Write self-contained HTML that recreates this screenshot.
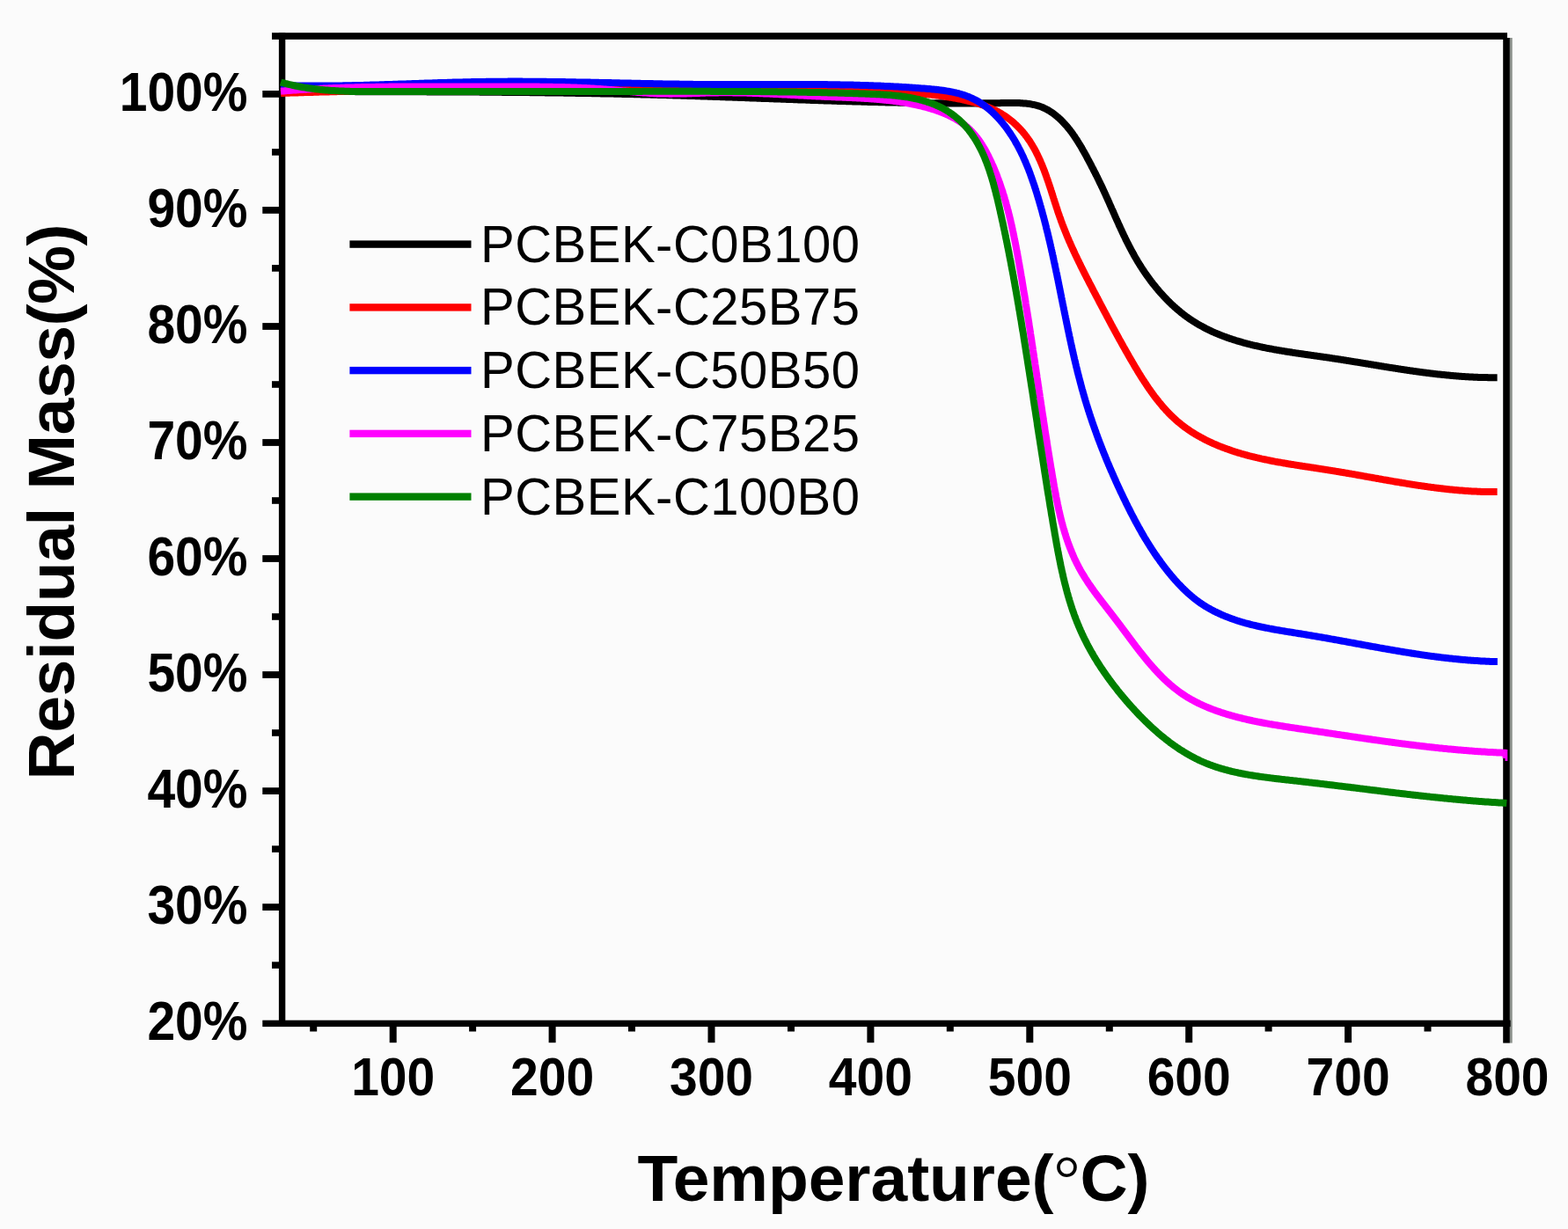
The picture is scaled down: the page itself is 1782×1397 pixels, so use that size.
<!DOCTYPE html><html><head><meta charset="utf-8"><style>html,body{margin:0;padding:0;background:#fbfbfb;}svg{display:block;}</style></head><body>
<svg width="1782" height="1397" viewBox="0 0 1782 1397">
<rect width="1782" height="1397" fill="#fbfbfb"/>
<g fill="#000">
<rect x="316.9" y="37.3" width="7.4" height="1129.7"/>
<rect x="309" y="37.2" width="1404" height="7.7"/>
<rect x="1708.2" y="43" width="7.7" height="1142.6"/>
<rect x="1715.9" y="43" width="2.8" height="1142.6" fill="#8b908b"/>
<rect x="298.3" y="1159.7" width="1418.3" height="7.4"/>
<rect x="442.7" y="1166" width="8" height="19.2"/>
<rect x="623.6" y="1166" width="8" height="19.2"/>
<rect x="804.5" y="1166" width="8" height="19.2"/>
<rect x="985.4" y="1166" width="8" height="19.2"/>
<rect x="1166.3" y="1166" width="8" height="19.2"/>
<rect x="1347.2" y="1166" width="8" height="19.2"/>
<rect x="1528.1" y="1166" width="8" height="19.2"/>
<rect x="352.2" y="1166" width="8" height="6.5"/>
<rect x="533.1" y="1166" width="8" height="6.5"/>
<rect x="714.0" y="1166" width="8" height="6.5"/>
<rect x="895.0" y="1166" width="8" height="6.5"/>
<rect x="1075.8" y="1166" width="8" height="6.5"/>
<rect x="1256.8" y="1166" width="8" height="6.5"/>
<rect x="1437.6" y="1166" width="8" height="6.5"/>
<rect x="1618.5" y="1166" width="8" height="6.5"/>
<rect x="298.3" y="1027.2" width="20" height="7.8"/>
<rect x="298.3" y="895.2" width="20" height="7.8"/>
<rect x="298.3" y="763.1" width="20" height="7.8"/>
<rect x="298.3" y="631.1" width="20" height="7.8"/>
<rect x="298.3" y="499.1" width="20" height="7.8"/>
<rect x="298.3" y="367.1" width="20" height="7.8"/>
<rect x="298.3" y="235.0" width="20" height="7.8"/>
<rect x="298.3" y="103.0" width="20" height="7.8"/>
<rect x="309" y="1093.3" width="10" height="7.6"/>
<rect x="309" y="961.3" width="10" height="7.6"/>
<rect x="309" y="829.2" width="10" height="7.6"/>
<rect x="309" y="697.2" width="10" height="7.6"/>
<rect x="309" y="565.2" width="10" height="7.6"/>
<rect x="309" y="433.2" width="10" height="7.6"/>
<rect x="309" y="301.1" width="10" height="7.6"/>
<rect x="309" y="169.1" width="10" height="7.6"/>
</g>
<g fill="none" stroke-width="8.0" stroke-linejoin="round" stroke-linecap="butt">
<path stroke="#000000" d="M319.0,104.0 L320.0,104.0 L321.0,104.0 L322.0,104.0 L323.1,104.0 L324.1,104.0 L325.1,104.0 L326.1,104.0 L327.1,104.0 L328.1,104.0 L329.2,104.0 L330.2,104.0 L331.2,104.0 L332.2,104.0 L333.2,104.0 L334.2,104.0 L335.2,104.0 L336.3,104.0 L337.3,104.0 L338.3,104.0 L339.3,104.0 L340.3,104.0 L341.3,104.0 L342.4,104.1 L343.4,104.1 L344.4,104.1 L345.4,104.1 L346.4,104.1 L347.4,104.1 L348.4,104.1 L349.5,104.1 L350.5,104.1 L351.5,104.1 L352.5,104.1 L353.5,104.1 L354.5,104.1 L355.6,104.1 L356.6,104.1 L357.6,104.1 L358.6,104.1 L359.6,104.1 L360.6,104.1 L361.7,104.1 L362.7,104.1 L363.7,104.1 L364.7,104.1 L365.7,104.1 L366.7,104.1 L367.7,104.1 L368.8,104.1 L369.8,104.1 L370.8,104.1 L371.8,104.1 L372.8,104.1 L373.8,104.1 L374.9,104.1 L375.9,104.1 L376.9,104.1 L377.9,104.1 L378.9,104.1 L379.9,104.1 L381.0,104.1 L382.0,104.1 L383.0,104.1 L384.0,104.1 L385.0,104.1 L386.0,104.1 L387.1,104.1 L388.1,104.1 L389.1,104.1 L390.1,104.1 L391.1,104.1 L392.1,104.1 L393.2,104.1 L394.2,104.1 L395.2,104.1 L396.2,104.1 L397.2,104.1 L398.2,104.1 L399.3,104.1 L400.3,104.1 L401.3,104.1 L402.3,104.1 L403.3,104.1 L404.3,104.2 L405.3,104.2 L406.4,104.2 L407.4,104.2 L408.4,104.2 L409.4,104.2 L410.4,104.2 L411.4,104.2 L412.5,104.2 L413.5,104.2 L414.5,104.2 L415.5,104.2 L416.5,104.2 L417.5,104.2 L418.6,104.2 L419.6,104.2 L420.6,104.2 L421.6,104.2 L422.6,104.2 L423.6,104.2 L424.7,104.2 L425.7,104.2 L426.7,104.2 L427.7,104.2 L428.7,104.2 L429.8,104.2 L430.8,104.2 L431.8,104.2 L432.8,104.2 L433.8,104.2 L434.8,104.2 L435.9,104.2 L436.9,104.2 L437.9,104.2 L438.9,104.2 L439.9,104.2 L440.9,104.2 L442.0,104.2 L443.0,104.2 L444.0,104.2 L445.0,104.2 L446.0,104.2 L447.0,104.2 L448.1,104.2 L449.1,104.2 L450.1,104.2 L451.1,104.2 L452.1,104.2 L453.1,104.3 L454.2,104.3 L455.2,104.3 L456.2,104.3 L457.2,104.3 L458.2,104.3 L459.2,104.3 L460.3,104.3 L461.3,104.3 L462.3,104.3 L463.3,104.3 L464.3,104.3 L465.3,104.3 L466.4,104.3 L467.4,104.3 L468.4,104.3 L469.4,104.3 L470.4,104.3 L471.4,104.3 L472.5,104.3 L473.5,104.3 L474.5,104.3 L475.5,104.3 L476.5,104.3 L477.6,104.3 L478.6,104.3 L479.6,104.3 L480.6,104.3 L481.6,104.3 L482.6,104.3 L483.7,104.3 L484.7,104.3 L485.7,104.4 L486.7,104.4 L487.7,104.4 L488.7,104.4 L489.8,104.4 L490.8,104.4 L491.8,104.4 L492.8,104.4 L493.8,104.4 L494.8,104.4 L495.9,104.4 L496.9,104.4 L497.9,104.4 L498.9,104.4 L499.9,104.4 L501.0,104.4 L502.0,104.4 L503.0,104.4 L504.0,104.4 L505.0,104.4 L506.0,104.4 L507.1,104.4 L508.1,104.4 L509.1,104.4 L510.1,104.5 L511.1,104.5 L512.1,104.5 L513.2,104.5 L514.2,104.5 L515.2,104.5 L516.2,104.5 L517.2,104.5 L518.2,104.5 L519.3,104.5 L520.3,104.5 L521.3,104.5 L522.3,104.5 L523.3,104.5 L524.4,104.5 L525.4,104.5 L526.4,104.5 L527.4,104.5 L528.4,104.5 L529.4,104.6 L530.5,104.6 L531.5,104.6 L532.5,104.6 L533.5,104.6 L534.5,104.6 L535.5,104.6 L536.6,104.6 L537.6,104.6 L538.6,104.6 L539.6,104.6 L540.6,104.6 L541.6,104.6 L542.7,104.6 L543.7,104.6 L544.7,104.6 L545.7,104.7 L546.7,104.7 L547.8,104.7 L548.8,104.7 L549.8,104.7 L550.8,104.7 L551.8,104.7 L552.8,104.7 L553.9,104.7 L554.9,104.7 L555.9,104.7 L556.9,104.7 L557.9,104.7 L558.9,104.8 L560.0,104.8 L561.0,104.8 L562.0,104.8 L563.0,104.8 L564.0,104.8 L565.0,104.8 L566.1,104.8 L567.1,104.8 L568.1,104.8 L569.1,104.8 L570.1,104.8 L571.2,104.9 L572.2,104.9 L573.2,104.9 L574.2,104.9 L575.2,104.9 L576.2,104.9 L577.3,104.9 L578.3,104.9 L579.3,104.9 L580.3,104.9 L581.3,104.9 L582.3,105.0 L583.4,105.0 L584.4,105.0 L585.4,105.0 L586.4,105.0 L587.4,105.0 L588.4,105.0 L589.5,105.0 L590.5,105.0 L591.5,105.0 L592.5,105.1 L593.5,105.1 L594.5,105.1 L595.6,105.1 L596.6,105.1 L597.6,105.1 L598.6,105.1 L599.6,105.1 L600.7,105.1 L601.7,105.1 L602.7,105.2 L603.7,105.2 L604.7,105.2 L605.7,105.2 L606.8,105.2 L607.8,105.2 L608.8,105.2 L609.8,105.2 L610.8,105.3 L611.8,105.3 L612.9,105.3 L613.9,105.3 L614.9,105.3 L615.9,105.3 L616.9,105.3 L617.9,105.3 L619.0,105.3 L620.0,105.4 L621.0,105.4 L622.0,105.4 L623.0,105.4 L624.0,105.4 L625.1,105.4 L626.1,105.4 L627.1,105.5 L628.1,105.5 L629.1,105.5 L630.1,105.5 L631.2,105.5 L632.2,105.5 L633.2,105.5 L634.2,105.6 L635.2,105.6 L636.3,105.6 L637.3,105.6 L638.3,105.6 L639.3,105.6 L640.3,105.6 L641.3,105.7 L642.4,105.7 L643.4,105.7 L644.4,105.7 L645.4,105.7 L646.4,105.7 L647.4,105.7 L648.5,105.8 L649.5,105.8 L650.5,105.8 L651.5,105.8 L652.5,105.8 L653.5,105.8 L654.6,105.9 L655.6,105.9 L656.6,105.9 L657.6,105.9 L658.6,105.9 L659.6,105.9 L660.7,106.0 L661.7,106.0 L662.7,106.0 L663.7,106.0 L664.7,106.0 L665.7,106.0 L666.8,106.1 L667.8,106.1 L668.8,106.1 L669.8,106.1 L670.8,106.1 L671.8,106.1 L672.9,106.2 L673.9,106.2 L674.9,106.2 L675.9,106.2 L676.9,106.2 L677.9,106.3 L679.0,106.3 L680.0,106.3 L681.0,106.3 L682.0,106.3 L683.0,106.4 L684.0,106.4 L685.1,106.4 L686.1,106.4 L687.1,106.4 L688.1,106.5 L689.1,106.5 L690.1,106.5 L691.1,106.5 L692.2,106.5 L693.2,106.6 L694.2,106.6 L695.2,106.6 L696.2,106.6 L697.2,106.6 L698.3,106.7 L699.3,106.7 L700.3,106.7 L701.3,106.7 L702.3,106.8 L703.3,106.8 L704.4,106.8 L705.4,106.8 L706.4,106.8 L707.4,106.9 L708.4,106.9 L709.4,106.9 L710.5,106.9 L711.5,107.0 L712.5,107.0 L713.5,107.0 L714.5,107.0 L715.5,107.0 L716.5,107.1 L717.6,107.1 L718.6,107.1 L719.6,107.1 L720.6,107.2 L721.6,107.2 L722.6,107.2 L723.7,107.2 L724.7,107.3 L725.7,107.3 L726.7,107.3 L727.7,107.3 L728.7,107.4 L729.8,107.4 L730.8,107.4 L731.8,107.4 L732.8,107.5 L733.8,107.5 L734.8,107.5 L735.8,107.5 L736.9,107.6 L737.9,107.6 L738.9,107.6 L739.9,107.7 L740.9,107.7 L741.9,107.7 L743.0,107.7 L744.0,107.8 L745.0,107.8 L746.0,107.8 L747.0,107.8 L748.0,107.9 L749.0,107.9 L750.1,107.9 L751.1,108.0 L752.1,108.0 L753.1,108.0 L754.1,108.0 L755.1,108.1 L756.2,108.1 L757.2,108.1 L758.2,108.2 L759.2,108.2 L760.2,108.2 L761.2,108.3 L762.2,108.3 L763.3,108.3 L764.3,108.3 L765.3,108.4 L766.3,108.4 L767.3,108.4 L768.3,108.5 L769.3,108.5 L770.4,108.5 L771.4,108.6 L772.4,108.6 L773.4,108.6 L774.4,108.7 L775.4,108.7 L776.4,108.7 L777.5,108.8 L778.5,108.8 L779.5,108.8 L780.5,108.8 L781.5,108.9 L782.5,108.9 L783.5,108.9 L784.6,109.0 L785.6,109.0 L786.6,109.0 L787.6,109.1 L788.6,109.1 L789.6,109.1 L790.7,109.2 L791.7,109.2 L792.7,109.2 L793.7,109.3 L794.7,109.3 L795.7,109.3 L796.7,109.4 L797.8,109.4 L798.8,109.5 L799.8,109.5 L800.8,109.5 L801.8,109.6 L802.8,109.6 L803.8,109.6 L804.9,109.7 L805.9,109.7 L806.9,109.7 L807.9,109.8 L808.9,109.8 L809.9,109.8 L810.9,109.9 L812.0,109.9 L813.0,109.9 L814.0,110.0 L815.0,110.0 L816.0,110.0 L817.0,110.1 L818.0,110.1 L819.1,110.2 L820.1,110.2 L821.1,110.2 L822.1,110.3 L823.1,110.3 L824.1,110.3 L825.1,110.4 L826.1,110.4 L827.2,110.4 L828.2,110.5 L829.2,110.5 L830.2,110.6 L831.2,110.6 L832.2,110.6 L833.2,110.7 L834.3,110.7 L835.3,110.7 L836.3,110.8 L837.3,110.8 L838.3,110.8 L839.3,110.9 L840.3,110.9 L841.4,111.0 L842.4,111.0 L843.4,111.0 L844.4,111.1 L845.4,111.1 L846.4,111.1 L847.4,111.2 L848.5,111.2 L849.5,111.3 L850.5,111.3 L851.5,111.3 L852.5,111.4 L853.5,111.4 L854.5,111.4 L855.6,111.5 L856.6,111.5 L857.6,111.6 L858.6,111.6 L859.6,111.6 L860.6,111.7 L861.6,111.7 L862.7,111.7 L863.7,111.8 L864.7,111.8 L865.7,111.9 L866.7,111.9 L867.7,111.9 L868.7,112.0 L869.8,112.0 L870.8,112.0 L871.8,112.1 L872.8,112.1 L873.8,112.1 L874.8,112.2 L875.8,112.2 L876.9,112.3 L877.9,112.3 L878.9,112.3 L879.9,112.4 L880.9,112.4 L881.9,112.4 L882.9,112.5 L884.0,112.5 L885.0,112.6 L886.0,112.6 L887.0,112.6 L888.0,112.7 L889.0,112.7 L890.0,112.7 L891.1,112.8 L892.1,112.8 L893.1,112.8 L894.1,112.9 L895.1,112.9 L896.1,113.0 L897.1,113.0 L898.2,113.0 L899.2,113.1 L900.2,113.1 L901.2,113.1 L902.2,113.2 L903.2,113.2 L904.2,113.2 L905.3,113.3 L906.3,113.3 L907.3,113.4 L908.3,113.4 L909.3,113.4 L910.3,113.5 L911.3,113.5 L912.4,113.5 L913.4,113.6 L914.4,113.6 L915.4,113.6 L916.4,113.7 L917.4,113.7 L918.4,113.7 L919.5,113.8 L920.5,113.8 L921.5,113.9 L922.5,113.9 L923.5,113.9 L924.5,114.0 L925.6,114.0 L926.6,114.0 L927.6,114.1 L928.6,114.1 L929.6,114.1 L930.6,114.2 L931.6,114.2 L932.7,114.2 L933.7,114.3 L934.7,114.3 L935.7,114.3 L936.7,114.4 L937.7,114.4 L938.8,114.4 L939.8,114.5 L940.8,114.5 L941.8,114.5 L942.8,114.6 L943.8,114.6 L944.8,114.6 L945.9,114.7 L946.9,114.7 L947.9,114.7 L948.9,114.8 L949.9,114.8 L950.9,114.8 L952.0,114.9 L953.0,114.9 L954.0,114.9 L955.0,114.9 L956.0,115.0 L957.0,115.0 L958.0,115.0 L959.1,115.1 L960.1,115.1 L961.1,115.1 L962.1,115.2 L963.1,115.2 L964.1,115.2 L965.2,115.3 L966.2,115.3 L967.2,115.3 L968.2,115.3 L969.2,115.4 L970.2,115.4 L971.3,115.4 L972.3,115.5 L973.3,115.5 L974.3,115.5 L975.3,115.5 L976.3,115.6 L977.3,115.6 L978.4,115.6 L979.4,115.7 L980.4,115.7 L981.4,115.7 L982.4,115.7 L983.4,115.8 L984.5,115.8 L985.5,115.8 L986.5,115.9 L987.5,115.9 L988.5,115.9 L989.5,115.9 L990.6,116.0 L991.6,116.0 L992.6,116.0 L993.6,116.0 L994.6,116.1 L995.6,116.1 L996.7,116.1 L997.7,116.1 L998.7,116.2 L999.7,116.2 L1000.7,116.2 L1001.8,116.2 L1002.8,116.3 L1003.8,116.3 L1004.8,116.3 L1005.8,116.3 L1006.8,116.4 L1007.9,116.4 L1008.9,116.4 L1009.9,116.4 L1010.9,116.4 L1011.9,116.5 L1012.9,116.5 L1014.0,116.5 L1015.0,116.5 L1016.0,116.5 L1017.0,116.6 L1018.0,116.6 L1019.1,116.6 L1020.1,116.6 L1021.1,116.7 L1022.1,116.7 L1023.1,116.7 L1024.1,116.7 L1025.2,116.7 L1026.2,116.7 L1027.2,116.8 L1028.2,116.8 L1029.2,116.8 L1030.3,116.8 L1031.3,116.8 L1032.3,116.9 L1033.3,116.9 L1034.3,116.9 L1035.3,116.9 L1036.4,116.9 L1037.4,116.9 L1038.4,117.0 L1039.4,117.0 L1040.4,117.0 L1041.5,117.0 L1042.5,117.0 L1043.5,117.0 L1044.5,117.0 L1045.5,117.1 L1046.6,117.1 L1047.6,117.1 L1048.6,117.1 L1049.6,117.1 L1050.6,117.1 L1051.7,117.1 L1052.7,117.2 L1053.7,117.2 L1054.7,117.2 L1055.7,117.2 L1056.7,117.2 L1057.8,117.2 L1058.8,117.2 L1059.8,117.2 L1060.8,117.2 L1061.8,117.3 L1062.9,117.3 L1063.9,117.3 L1064.9,117.3 L1065.9,117.3 L1067.0,117.3 L1068.0,117.3 L1069.0,117.3 L1070.0,117.3 L1071.0,117.3 L1072.1,117.3 L1073.1,117.4 L1074.1,117.4 L1075.1,117.4 L1076.1,117.4 L1077.2,117.4 L1078.2,117.4 L1079.2,117.4 L1080.2,117.4 L1081.2,117.4 L1082.3,117.4 L1083.3,117.4 L1084.3,117.4 L1085.3,117.4 L1086.3,117.4 L1087.4,117.4 L1088.4,117.4 L1089.4,117.4 L1090.4,117.4 L1091.5,117.4 L1092.5,117.4 L1093.5,117.4 L1094.5,117.4 L1095.5,117.4 L1096.6,117.4 L1097.6,117.4 L1098.6,117.4 L1099.6,117.4 L1100.7,117.4 L1101.7,117.4 L1102.7,117.4 L1103.7,117.4 L1104.7,117.4 L1105.8,117.4 L1106.8,117.4 L1107.8,117.4 L1108.8,117.4 L1109.9,117.4 L1110.9,117.4 L1111.9,117.4 L1112.9,117.4 L1114.0,117.4 L1115.0,117.4 L1116.0,117.4 L1117.0,117.4 L1118.0,117.3 L1119.1,117.3 L1120.1,117.3 L1121.1,117.3 L1122.1,117.3 L1123.2,117.3 L1124.2,117.3 L1125.2,117.3 L1126.2,117.3 L1127.3,117.3 L1128.3,117.3 L1129.3,117.2 L1130.3,117.2 L1131.4,117.2 L1132.4,117.2 L1133.4,117.2 L1134.4,117.2 L1135.5,117.2 L1136.5,117.2 L1137.5,117.1 L1138.5,117.1 L1139.6,117.1 L1140.6,117.1 L1141.6,117.1 L1142.6,117.1 L1143.7,117.0 L1144.7,117.0 L1145.7,117.0 L1146.7,117.0 L1147.8,117.0 L1148.8,117.0 L1149.8,117.0 L1150.8,117.0 L1151.8,117.0 L1152.8,117.0 L1153.9,117.0 L1154.9,117.0 L1155.9,117.0 L1156.9,117.1 L1157.9,117.1 L1158.9,117.1 L1159.9,117.2 L1160.9,117.2 L1161.9,117.3 L1162.9,117.4 L1163.9,117.4 L1164.9,117.5 L1165.9,117.6 L1166.9,117.7 L1167.8,117.8 L1168.8,118.0 L1169.8,118.1 L1170.8,118.2 L1171.7,118.4 L1172.7,118.6 L1173.6,118.8 L1174.6,119.0 L1175.6,119.2 L1176.5,119.4 L1177.4,119.6 L1178.4,119.9 L1179.3,120.1 L1180.2,120.4 L1181.1,120.7 L1182.1,121.0 L1183.0,121.3 L1183.9,121.7 L1184.8,122.1 L1185.7,122.4 L1186.5,122.8 L1187.4,123.2 L1188.3,123.7 L1189.2,124.1 L1190.0,124.6 L1190.9,125.0 L1191.7,125.5 L1192.6,126.0 L1193.4,126.6 L1194.2,127.1 L1195.1,127.7 L1195.9,128.2 L1196.7,128.8 L1197.5,129.4 L1198.3,130.0 L1199.1,130.6 L1199.9,131.2 L1200.7,131.9 L1201.4,132.5 L1202.2,133.2 L1203.0,133.8 L1203.7,134.5 L1204.5,135.2 L1205.2,135.9 L1205.9,136.6 L1206.7,137.3 L1207.4,138.1 L1208.1,138.8 L1208.8,139.6 L1209.5,140.3 L1210.2,141.1 L1210.9,141.8 L1211.6,142.6 L1212.3,143.4 L1212.9,144.2 L1213.6,145.0 L1214.3,145.8 L1214.9,146.6 L1215.6,147.4 L1216.2,148.2 L1216.8,149.1 L1217.5,149.9 L1218.1,150.7 L1218.7,151.6 L1219.3,152.4 L1219.9,153.3 L1220.5,154.1 L1221.1,155.0 L1221.7,155.8 L1222.2,156.7 L1222.8,157.6 L1223.4,158.5 L1224.0,159.3 L1224.5,160.2 L1225.1,161.1 L1225.6,162.0 L1226.2,162.9 L1226.7,163.8 L1227.3,164.7 L1227.8,165.5 L1228.3,166.4 L1228.9,167.3 L1229.4,168.2 L1229.9,169.2 L1230.4,170.1 L1230.9,171.0 L1231.4,171.9 L1232.0,172.8 L1232.5,173.7 L1233.0,174.6 L1233.5,175.5 L1234.0,176.4 L1234.5,177.3 L1235.0,178.2 L1235.5,179.2 L1235.9,180.1 L1236.4,181.0 L1236.9,181.9 L1237.4,182.8 L1237.9,183.7 L1238.4,184.6 L1238.8,185.5 L1239.3,186.4 L1239.8,187.3 L1240.3,188.2 L1240.7,189.2 L1241.2,190.1 L1241.7,191.0 L1242.2,191.9 L1242.6,192.8 L1243.1,193.7 L1243.5,194.6 L1244.0,195.5 L1244.5,196.4 L1244.9,197.3 L1245.4,198.2 L1245.8,199.1 L1246.3,200.0 L1246.7,200.9 L1247.2,201.8 L1247.6,202.7 L1248.1,203.6 L1248.5,204.6 L1249.0,205.5 L1249.4,206.4 L1249.8,207.3 L1250.3,208.2 L1250.7,209.1 L1251.2,210.0 L1251.6,210.9 L1252.0,211.8 L1252.5,212.7 L1252.9,213.6 L1253.3,214.6 L1253.7,215.5 L1254.2,216.4 L1254.6,217.3 L1255.0,218.2 L1255.4,219.1 L1255.8,220.0 L1256.3,221.0 L1256.7,221.9 L1257.1,222.8 L1257.5,223.7 L1257.9,224.6 L1258.3,225.5 L1258.7,226.4 L1259.2,227.4 L1259.6,228.3 L1260.0,229.2 L1260.4,230.1 L1260.8,231.0 L1261.2,232.0 L1261.6,232.9 L1262.0,233.8 L1262.4,234.7 L1262.8,235.6 L1263.2,236.6 L1263.6,237.5 L1264.0,238.4 L1264.5,239.3 L1264.9,240.2 L1265.3,241.2 L1265.7,242.1 L1266.1,243.0 L1266.5,243.9 L1266.9,244.8 L1267.3,245.8 L1267.7,246.7 L1268.1,247.6 L1268.5,248.5 L1268.9,249.4 L1269.3,250.3 L1269.8,251.3 L1270.2,252.2 L1270.6,253.1 L1271.0,254.0 L1271.4,254.9 L1271.8,255.9 L1272.2,256.8 L1272.7,257.7 L1273.1,258.6 L1273.5,259.5 L1273.9,260.4 L1274.3,261.3 L1274.8,262.3 L1275.2,263.2 L1275.6,264.1 L1276.0,265.0 L1276.5,265.9 L1276.9,266.8 L1277.3,267.7 L1277.8,268.6 L1278.2,269.5 L1278.7,270.5 L1279.1,271.4 L1279.5,272.3 L1280.0,273.2 L1280.4,274.1 L1280.9,275.0 L1281.3,275.9 L1281.8,276.8 L1282.3,277.7 L1282.7,278.6 L1283.2,279.5 L1283.6,280.4 L1284.1,281.3 L1284.6,282.2 L1285.1,283.1 L1285.5,284.0 L1286.0,284.9 L1286.5,285.8 L1287.0,286.7 L1287.5,287.6 L1288.0,288.4 L1288.4,289.3 L1288.9,290.2 L1289.4,291.1 L1289.9,292.0 L1290.5,292.9 L1291.0,293.8 L1291.5,294.6 L1292.0,295.5 L1292.5,296.4 L1293.0,297.3 L1293.6,298.2 L1294.1,299.0 L1294.6,299.9 L1295.2,300.8 L1295.7,301.7 L1296.3,302.5 L1296.8,303.4 L1297.4,304.3 L1298.0,305.1 L1298.5,306.0 L1299.1,306.9 L1299.7,307.7 L1300.2,308.6 L1300.8,309.4 L1301.4,310.3 L1302.0,311.1 L1302.6,312.0 L1303.2,312.8 L1303.8,313.7 L1304.4,314.5 L1305.0,315.4 L1305.6,316.2 L1306.2,317.0 L1306.8,317.9 L1307.4,318.7 L1308.0,319.5 L1308.7,320.3 L1309.3,321.2 L1309.9,322.0 L1310.6,322.8 L1311.2,323.6 L1311.9,324.4 L1312.5,325.2 L1313.2,326.0 L1313.8,326.8 L1314.5,327.6 L1315.1,328.4 L1315.8,329.2 L1316.5,330.0 L1317.2,330.8 L1317.8,331.6 L1318.5,332.4 L1319.2,333.1 L1319.9,333.9 L1320.6,334.7 L1321.3,335.4 L1322.0,336.2 L1322.7,337.0 L1323.4,337.7 L1324.1,338.5 L1324.8,339.2 L1325.5,339.9 L1326.2,340.7 L1326.9,341.4 L1327.7,342.1 L1328.4,342.9 L1329.1,343.6 L1329.9,344.3 L1330.6,345.0 L1331.3,345.7 L1332.1,346.4 L1332.8,347.1 L1333.6,347.8 L1334.3,348.5 L1335.1,349.2 L1335.9,349.8 L1336.6,350.5 L1337.4,351.2 L1338.2,351.8 L1338.9,352.5 L1339.7,353.1 L1340.5,353.8 L1341.3,354.4 L1342.0,355.1 L1342.8,355.7 L1343.6,356.3 L1344.4,356.9 L1345.2,357.6 L1346.0,358.2 L1346.8,358.8 L1347.6,359.4 L1348.4,360.0 L1349.3,360.5 L1350.1,361.1 L1350.9,361.7 L1351.7,362.3 L1352.5,362.8 L1353.4,363.4 L1354.2,363.9 L1355.0,364.5 L1355.9,365.0 L1356.7,365.6 L1357.5,366.1 L1358.4,366.6 L1359.2,367.1 L1360.1,367.7 L1360.9,368.2 L1361.8,368.7 L1362.6,369.2 L1363.5,369.7 L1364.4,370.1 L1365.2,370.6 L1366.1,371.1 L1367.0,371.6 L1367.9,372.0 L1368.7,372.5 L1369.6,373.0 L1370.5,373.4 L1371.4,373.9 L1372.3,374.3 L1373.1,374.7 L1374.0,375.2 L1374.9,375.6 L1375.8,376.0 L1376.7,376.4 L1377.6,376.9 L1378.5,377.3 L1379.4,377.7 L1380.3,378.1 L1381.2,378.5 L1382.2,378.9 L1383.1,379.2 L1384.0,379.6 L1384.9,380.0 L1385.8,380.4 L1386.7,380.7 L1387.7,381.1 L1388.6,381.5 L1389.5,381.8 L1390.5,382.2 L1391.4,382.5 L1392.3,382.9 L1393.3,383.2 L1394.2,383.6 L1395.1,383.9 L1396.1,384.2 L1397.0,384.6 L1398.0,384.9 L1398.9,385.2 L1399.9,385.5 L1400.8,385.8 L1401.8,386.1 L1402.7,386.4 L1403.7,386.7 L1404.6,387.0 L1405.6,387.3 L1406.6,387.6 L1407.5,387.9 L1408.5,388.2 L1409.5,388.5 L1410.4,388.7 L1411.4,389.0 L1412.4,389.3 L1413.3,389.6 L1414.3,389.8 L1415.3,390.1 L1416.3,390.3 L1417.2,390.6 L1418.2,390.9 L1419.2,391.1 L1420.2,391.4 L1421.2,391.6 L1422.1,391.8 L1423.1,392.1 L1424.1,392.3 L1425.1,392.6 L1426.1,392.8 L1427.1,393.0 L1428.1,393.2 L1429.1,393.5 L1430.1,393.7 L1431.1,393.9 L1432.1,394.1 L1433.1,394.3 L1434.1,394.5 L1435.1,394.8 L1436.1,395.0 L1437.1,395.2 L1438.1,395.4 L1439.1,395.6 L1440.1,395.8 L1441.1,396.0 L1442.1,396.2 L1443.1,396.4 L1444.1,396.5 L1445.1,396.7 L1446.1,396.9 L1447.1,397.1 L1448.1,397.3 L1449.1,397.5 L1450.2,397.6 L1451.2,397.8 L1452.2,398.0 L1453.2,398.2 L1454.2,398.4 L1455.2,398.5 L1456.2,398.7 L1457.3,398.9 L1458.3,399.0 L1459.3,399.2 L1460.3,399.4 L1461.3,399.5 L1462.4,399.7 L1463.4,399.9 L1464.4,400.0 L1465.4,400.2 L1466.4,400.3 L1467.5,400.5 L1468.5,400.6 L1469.5,400.8 L1470.5,401.0 L1471.5,401.1 L1472.6,401.3 L1473.6,401.4 L1474.6,401.6 L1475.6,401.7 L1476.7,401.9 L1477.7,402.0 L1478.7,402.2 L1479.7,402.3 L1480.8,402.5 L1481.8,402.6 L1482.8,402.8 L1483.8,402.9 L1484.8,403.0 L1485.9,403.2 L1486.9,403.3 L1487.9,403.5 L1488.9,403.6 L1490.0,403.8 L1491.0,403.9 L1492.0,404.1 L1493.0,404.2 L1494.1,404.4 L1495.1,404.5 L1496.1,404.6 L1497.1,404.8 L1498.1,404.9 L1499.2,405.1 L1500.2,405.2 L1501.2,405.4 L1502.2,405.5 L1503.2,405.7 L1504.3,405.8 L1505.3,406.0 L1506.3,406.1 L1507.3,406.2 L1508.3,406.4 L1509.4,406.5 L1510.4,406.7 L1511.4,406.8 L1512.4,407.0 L1513.4,407.1 L1514.4,407.3 L1515.4,407.5 L1516.5,407.6 L1517.5,407.8 L1518.5,407.9 L1519.5,408.1 L1520.5,408.2 L1521.5,408.4 L1522.5,408.5 L1523.5,408.7 L1524.5,408.9 L1525.6,409.0 L1526.6,409.2 L1527.6,409.3 L1528.6,409.5 L1529.6,409.6 L1530.6,409.8 L1531.6,410.0 L1532.6,410.1 L1533.6,410.3 L1534.6,410.4 L1535.6,410.6 L1536.6,410.8 L1537.6,410.9 L1538.6,411.1 L1539.6,411.3 L1540.6,411.4 L1541.6,411.6 L1542.6,411.7 L1543.6,411.9 L1544.6,412.1 L1545.6,412.2 L1546.6,412.4 L1547.6,412.6 L1548.6,412.7 L1549.6,412.9 L1550.6,413.1 L1551.6,413.2 L1552.6,413.4 L1553.6,413.5 L1554.6,413.7 L1555.6,413.9 L1556.6,414.0 L1557.6,414.2 L1558.6,414.4 L1559.6,414.5 L1560.6,414.7 L1561.6,414.9 L1562.6,415.0 L1563.6,415.2 L1564.6,415.3 L1565.6,415.5 L1566.6,415.7 L1567.6,415.8 L1568.6,416.0 L1569.6,416.2 L1570.6,416.3 L1571.6,416.5 L1572.5,416.6 L1573.5,416.8 L1574.5,417.0 L1575.5,417.1 L1576.5,417.3 L1577.5,417.4 L1578.5,417.6 L1579.5,417.8 L1580.5,417.9 L1581.5,418.1 L1582.5,418.2 L1583.5,418.4 L1584.5,418.5 L1585.5,418.7 L1586.5,418.9 L1587.5,419.0 L1588.5,419.2 L1589.4,419.3 L1590.4,419.5 L1591.4,419.6 L1592.4,419.8 L1593.4,419.9 L1594.4,420.1 L1595.4,420.2 L1596.4,420.4 L1597.4,420.5 L1598.4,420.7 L1599.4,420.8 L1600.4,421.0 L1601.4,421.1 L1602.4,421.3 L1603.4,421.4 L1604.4,421.5 L1605.4,421.7 L1606.3,421.8 L1607.3,422.0 L1608.3,422.1 L1609.3,422.2 L1610.3,422.4 L1611.3,422.5 L1612.3,422.7 L1613.3,422.8 L1614.3,422.9 L1615.3,423.1 L1616.3,423.2 L1617.3,423.3 L1618.3,423.5 L1619.3,423.6 L1620.3,423.7 L1621.3,423.8 L1622.3,424.0 L1623.3,424.1 L1624.3,424.2 L1625.3,424.3 L1626.3,424.5 L1627.3,424.6 L1628.3,424.7 L1629.3,424.8 L1630.3,424.9 L1631.3,425.1 L1632.3,425.2 L1633.3,425.3 L1634.3,425.4 L1635.3,425.5 L1636.3,425.6 L1637.3,425.7 L1638.3,425.8 L1639.3,425.9 L1640.3,426.0 L1641.3,426.1 L1642.3,426.2 L1643.3,426.3 L1644.3,426.4 L1645.3,426.5 L1646.4,426.6 L1647.4,426.7 L1648.4,426.8 L1649.4,426.9 L1650.4,427.0 L1651.4,427.1 L1652.4,427.2 L1653.4,427.3 L1654.4,427.3 L1655.4,427.4 L1656.4,427.5 L1657.5,427.6 L1658.5,427.7 L1659.5,427.7 L1660.5,427.8 L1661.5,427.9 L1662.5,428.0 L1663.5,428.0 L1664.6,428.1 L1665.6,428.2 L1666.6,428.2 L1667.6,428.3 L1668.6,428.3 L1669.7,428.4 L1670.7,428.4 L1671.7,428.5 L1672.7,428.6 L1673.7,428.6 L1674.8,428.7 L1675.8,428.7 L1676.8,428.7 L1677.8,428.8 L1678.9,428.8 L1679.9,428.9 L1680.9,428.9 L1681.9,428.9 L1683.0,429.0 L1684.0,429.0 L1685.0,429.0 L1686.1,429.1 L1687.1,429.1 L1688.1,429.1 L1689.1,429.1 L1690.2,429.1 L1691.2,429.2 L1692.3,429.2 L1693.3,429.2 L1694.3,429.2 L1695.4,429.2 L1696.4,429.2 L1697.4,429.2 L1698.5,429.2 L1699.5,429.2 L1700.6,429.2 L1701.6,429.2"/>
<path stroke="#ff0000" d="M319.0,106.0 L320.1,105.9 L321.1,105.9 L322.2,105.9 L323.3,105.8 L324.4,105.8 L325.4,105.8 L326.5,105.7 L327.6,105.7 L328.6,105.7 L329.7,105.6 L330.8,105.6 L331.8,105.6 L332.9,105.5 L334.0,105.5 L335.1,105.5 L336.1,105.4 L337.2,105.4 L338.3,105.4 L339.3,105.3 L340.4,105.3 L341.5,105.3 L342.6,105.2 L343.6,105.2 L344.7,105.2 L345.8,105.1 L346.8,105.1 L347.9,105.1 L349.0,105.0 L350.1,105.0 L351.1,105.0 L352.2,104.9 L353.3,104.9 L354.3,104.9 L355.4,104.9 L356.5,104.8 L357.6,104.8 L358.6,104.8 L359.7,104.7 L360.8,104.7 L361.8,104.7 L362.9,104.6 L364.0,104.6 L365.0,104.6 L366.1,104.6 L367.2,104.5 L368.3,104.5 L369.3,104.5 L370.4,104.4 L371.5,104.4 L372.5,104.4 L373.6,104.4 L374.7,104.3 L375.8,104.3 L376.8,104.3 L377.9,104.3 L379.0,104.2 L380.0,104.2 L381.1,104.2 L382.2,104.2 L383.3,104.1 L384.3,104.1 L385.4,104.1 L386.5,104.0 L387.5,104.0 L388.6,104.0 L389.7,104.0 L390.8,103.9 L391.8,103.9 L392.9,103.9 L394.0,103.9 L395.0,103.9 L396.1,103.8 L397.2,103.8 L398.3,103.8 L399.3,103.8 L400.4,103.7 L401.5,103.7 L402.6,103.7 L403.6,103.7 L404.7,103.6 L405.8,103.6 L406.8,103.6 L407.9,103.6 L409.0,103.5 L410.1,103.5 L411.1,103.5 L412.2,103.5 L413.3,103.5 L414.3,103.4 L415.4,103.4 L416.5,103.4 L417.6,103.4 L418.6,103.4 L419.7,103.3 L420.8,103.3 L421.8,103.3 L422.9,103.3 L424.0,103.3 L425.1,103.2 L426.1,103.2 L427.2,103.2 L428.3,103.2 L429.3,103.2 L430.4,103.1 L431.5,103.1 L432.6,103.1 L433.6,103.1 L434.7,103.1 L435.8,103.0 L436.9,103.0 L437.9,103.0 L439.0,103.0 L440.1,103.0 L441.1,102.9 L442.2,102.9 L443.3,102.9 L444.4,102.9 L445.4,102.9 L446.5,102.9 L447.6,102.8 L448.6,102.8 L449.7,102.8 L450.8,102.8 L451.9,102.8 L452.9,102.8 L454.0,102.7 L455.1,102.7 L456.1,102.7 L457.2,102.7 L458.3,102.7 L459.4,102.7 L460.4,102.6 L461.5,102.6 L462.6,102.6 L463.7,102.6 L464.7,102.6 L465.8,102.6 L466.9,102.5 L467.9,102.5 L469.0,102.5 L470.1,102.5 L471.2,102.5 L472.2,102.5 L473.3,102.5 L474.4,102.4 L475.5,102.4 L476.5,102.4 L477.6,102.4 L478.7,102.4 L479.7,102.4 L480.8,102.4 L481.9,102.4 L483.0,102.3 L484.0,102.3 L485.1,102.3 L486.2,102.3 L487.2,102.3 L488.3,102.3 L489.4,102.3 L490.5,102.2 L491.5,102.2 L492.6,102.2 L493.7,102.2 L494.8,102.2 L495.8,102.2 L496.9,102.2 L498.0,102.2 L499.0,102.2 L500.1,102.1 L501.2,102.1 L502.3,102.1 L503.3,102.1 L504.4,102.1 L505.5,102.1 L506.6,102.1 L507.6,102.1 L508.7,102.1 L509.8,102.0 L510.8,102.0 L511.9,102.0 L513.0,102.0 L514.1,102.0 L515.1,102.0 L516.2,102.0 L517.3,102.0 L518.4,102.0 L519.4,102.0 L520.5,101.9 L521.6,101.9 L522.6,101.9 L523.7,101.9 L524.8,101.9 L525.9,101.9 L526.9,101.9 L528.0,101.9 L529.1,101.9 L530.2,101.9 L531.2,101.9 L532.3,101.8 L533.4,101.8 L534.4,101.8 L535.5,101.8 L536.6,101.8 L537.7,101.8 L538.7,101.8 L539.8,101.8 L540.9,101.8 L542.0,101.8 L543.0,101.8 L544.1,101.8 L545.2,101.8 L546.2,101.7 L547.3,101.7 L548.4,101.7 L549.5,101.7 L550.5,101.7 L551.6,101.7 L552.7,101.7 L553.8,101.7 L554.8,101.7 L555.9,101.7 L557.0,101.7 L558.0,101.7 L559.1,101.7 L560.2,101.7 L561.3,101.7 L562.3,101.7 L563.4,101.6 L564.5,101.6 L565.6,101.6 L566.6,101.6 L567.7,101.6 L568.8,101.6 L569.9,101.6 L570.9,101.6 L572.0,101.6 L573.1,101.6 L574.1,101.6 L575.2,101.6 L576.3,101.6 L577.4,101.6 L578.4,101.6 L579.5,101.6 L580.6,101.6 L581.7,101.6 L582.7,101.6 L583.8,101.5 L584.9,101.5 L585.9,101.5 L587.0,101.5 L588.1,101.5 L589.2,101.5 L590.2,101.5 L591.3,101.5 L592.4,101.5 L593.5,101.5 L594.5,101.5 L595.6,101.5 L596.7,101.5 L597.8,101.5 L598.8,101.5 L599.9,101.5 L601.0,101.5 L602.0,101.5 L603.1,101.5 L604.2,101.5 L605.3,101.5 L606.3,101.5 L607.4,101.5 L608.5,101.5 L609.6,101.5 L610.6,101.5 L611.7,101.5 L612.8,101.5 L613.8,101.5 L614.9,101.5 L616.0,101.5 L617.1,101.4 L618.1,101.4 L619.2,101.4 L620.3,101.4 L621.4,101.4 L622.4,101.4 L623.5,101.4 L624.6,101.4 L625.7,101.4 L626.7,101.4 L627.8,101.4 L628.9,101.4 L629.9,101.4 L631.0,101.4 L632.1,101.4 L633.2,101.4 L634.2,101.4 L635.3,101.4 L636.4,101.4 L637.5,101.4 L638.5,101.4 L639.6,101.4 L640.7,101.4 L641.7,101.4 L642.8,101.4 L643.9,101.4 L645.0,101.4 L646.0,101.4 L647.1,101.4 L648.2,101.4 L649.3,101.4 L650.3,101.4 L651.4,101.4 L652.5,101.4 L653.6,101.4 L654.6,101.4 L655.7,101.4 L656.8,101.4 L657.8,101.4 L658.9,101.4 L660.0,101.4 L661.1,101.4 L662.1,101.4 L663.2,101.4 L664.3,101.4 L665.4,101.4 L666.4,101.4 L667.5,101.4 L668.6,101.4 L669.6,101.4 L670.7,101.4 L671.8,101.4 L672.9,101.4 L673.9,101.4 L675.0,101.4 L676.1,101.4 L677.2,101.4 L678.2,101.4 L679.3,101.4 L680.4,101.4 L681.5,101.4 L682.5,101.4 L683.6,101.4 L684.7,101.4 L685.7,101.4 L686.8,101.4 L687.9,101.4 L689.0,101.4 L690.0,101.4 L691.1,101.4 L692.2,101.4 L693.3,101.4 L694.3,101.4 L695.4,101.4 L696.5,101.4 L697.5,101.4 L698.6,101.4 L699.7,101.4 L700.8,101.4 L701.8,101.4 L702.9,101.4 L704.0,101.4 L705.1,101.4 L706.1,101.4 L707.2,101.4 L708.3,101.4 L709.4,101.4 L710.4,101.4 L711.5,101.4 L712.6,101.4 L713.6,101.4 L714.7,101.4 L715.8,101.4 L716.9,101.4 L717.9,101.4 L719.0,101.4 L720.1,101.4 L721.2,101.4 L722.2,101.4 L723.3,101.4 L724.4,101.4 L725.4,101.4 L726.5,101.4 L727.6,101.4 L728.7,101.4 L729.7,101.4 L730.8,101.4 L731.9,101.4 L733.0,101.4 L734.0,101.4 L735.1,101.4 L736.2,101.5 L737.3,101.5 L738.3,101.5 L739.4,101.5 L740.5,101.5 L741.5,101.5 L742.6,101.5 L743.7,101.5 L744.8,101.5 L745.8,101.5 L746.9,101.5 L748.0,101.5 L749.1,101.5 L750.1,101.5 L751.2,101.5 L752.3,101.5 L753.3,101.5 L754.4,101.5 L755.5,101.5 L756.6,101.5 L757.6,101.5 L758.7,101.5 L759.8,101.5 L760.9,101.5 L761.9,101.5 L763.0,101.5 L764.1,101.5 L765.1,101.5 L766.2,101.5 L767.3,101.5 L768.4,101.5 L769.4,101.5 L770.5,101.5 L771.6,101.5 L772.7,101.5 L773.7,101.5 L774.8,101.5 L775.9,101.5 L776.9,101.5 L778.0,101.5 L779.1,101.5 L780.2,101.5 L781.2,101.5 L782.3,101.5 L783.4,101.5 L784.5,101.5 L785.5,101.5 L786.6,101.5 L787.7,101.5 L788.7,101.5 L789.8,101.5 L790.9,101.5 L792.0,101.5 L793.0,101.5 L794.1,101.5 L795.2,101.5 L796.3,101.5 L797.3,101.5 L798.4,101.5 L799.5,101.5 L800.5,101.5 L801.6,101.5 L802.7,101.5 L803.8,101.5 L804.8,101.5 L805.9,101.5 L807.0,101.5 L808.1,101.5 L809.1,101.5 L810.2,101.6 L811.3,101.6 L812.3,101.6 L813.4,101.6 L814.5,101.6 L815.6,101.6 L816.6,101.6 L817.7,101.6 L818.8,101.6 L819.9,101.6 L820.9,101.6 L822.0,101.6 L823.1,101.6 L824.1,101.6 L825.2,101.6 L826.3,101.6 L827.4,101.6 L828.4,101.6 L829.5,101.6 L830.6,101.6 L831.7,101.6 L832.7,101.6 L833.8,101.6 L834.9,101.6 L835.9,101.6 L837.0,101.6 L838.1,101.6 L839.2,101.6 L840.2,101.6 L841.3,101.6 L842.4,101.6 L843.4,101.6 L844.5,101.6 L845.6,101.7 L846.7,101.7 L847.7,101.7 L848.8,101.7 L849.9,101.7 L851.0,101.7 L852.0,101.7 L853.1,101.7 L854.2,101.7 L855.2,101.7 L856.3,101.7 L857.4,101.7 L858.5,101.7 L859.5,101.7 L860.6,101.7 L861.7,101.7 L862.8,101.7 L863.8,101.7 L864.9,101.7 L866.0,101.8 L867.0,101.8 L868.1,101.8 L869.2,101.8 L870.3,101.8 L871.3,101.8 L872.4,101.8 L873.5,101.8 L874.6,101.8 L875.6,101.8 L876.7,101.8 L877.8,101.8 L878.8,101.8 L879.9,101.8 L881.0,101.9 L882.1,101.9 L883.1,101.9 L884.2,101.9 L885.3,101.9 L886.3,101.9 L887.4,101.9 L888.5,101.9 L889.6,101.9 L890.6,101.9 L891.7,101.9 L892.8,101.9 L893.9,102.0 L894.9,102.0 L896.0,102.0 L897.1,102.0 L898.1,102.0 L899.2,102.0 L900.3,102.0 L901.4,102.0 L902.4,102.0 L903.5,102.1 L904.6,102.1 L905.6,102.1 L906.7,102.1 L907.8,102.1 L908.9,102.1 L909.9,102.1 L911.0,102.1 L912.1,102.1 L913.2,102.2 L914.2,102.2 L915.3,102.2 L916.4,102.2 L917.4,102.2 L918.5,102.2 L919.6,102.2 L920.7,102.3 L921.7,102.3 L922.8,102.3 L923.9,102.3 L925.0,102.3 L926.0,102.3 L927.1,102.3 L928.2,102.4 L929.2,102.4 L930.3,102.4 L931.4,102.4 L932.5,102.4 L933.5,102.4 L934.6,102.5 L935.7,102.5 L936.7,102.5 L937.8,102.5 L938.9,102.5 L940.0,102.5 L941.0,102.6 L942.1,102.6 L943.2,102.6 L944.3,102.6 L945.3,102.6 L946.4,102.7 L947.5,102.7 L948.5,102.7 L949.6,102.7 L950.7,102.7 L951.8,102.8 L952.8,102.8 L953.9,102.8 L955.0,102.8 L956.0,102.8 L957.1,102.9 L958.2,102.9 L959.3,102.9 L960.3,102.9 L961.4,102.9 L962.5,103.0 L963.6,103.0 L964.6,103.0 L965.7,103.0 L966.8,103.1 L967.8,103.1 L968.9,103.1 L970.0,103.1 L971.1,103.2 L972.1,103.2 L973.2,103.2 L974.3,103.2 L975.3,103.3 L976.4,103.3 L977.5,103.3 L978.6,103.3 L979.6,103.4 L980.7,103.4 L981.8,103.4 L982.9,103.5 L983.9,103.5 L985.0,103.5 L986.1,103.5 L987.1,103.6 L988.2,103.6 L989.3,103.6 L990.4,103.7 L991.4,103.7 L992.5,103.7 L993.6,103.7 L994.7,103.8 L995.7,103.8 L996.8,103.8 L997.9,103.9 L998.9,103.9 L1000.0,103.9 L1001.1,104.0 L1002.2,104.0 L1003.2,104.0 L1004.3,104.1 L1005.4,104.1 L1006.4,104.2 L1007.5,104.2 L1008.6,104.2 L1009.7,104.3 L1010.7,104.3 L1011.8,104.4 L1012.9,104.4 L1013.9,104.4 L1015.0,104.5 L1016.1,104.5 L1017.2,104.6 L1018.2,104.6 L1019.3,104.7 L1020.4,104.7 L1021.4,104.8 L1022.5,104.8 L1023.6,104.9 L1024.7,105.0 L1025.7,105.0 L1026.8,105.1 L1027.9,105.1 L1028.9,105.2 L1030.0,105.3 L1031.1,105.3 L1032.2,105.4 L1033.2,105.5 L1034.3,105.5 L1035.4,105.6 L1036.4,105.7 L1037.5,105.8 L1038.6,105.8 L1039.6,105.9 L1040.7,106.0 L1041.8,106.1 L1042.9,106.2 L1043.9,106.3 L1045.0,106.4 L1046.1,106.4 L1047.1,106.5 L1048.2,106.6 L1049.3,106.7 L1050.3,106.8 L1051.4,106.9 L1052.5,107.0 L1053.5,107.2 L1054.6,107.3 L1055.7,107.4 L1056.7,107.5 L1057.8,107.6 L1058.9,107.7 L1059.9,107.9 L1061.0,108.0 L1062.1,108.1 L1063.2,108.2 L1064.2,108.4 L1065.3,108.5 L1066.3,108.6 L1067.4,108.8 L1068.5,108.9 L1069.5,109.1 L1070.6,109.2 L1071.7,109.4 L1072.7,109.5 L1073.8,109.7 L1074.9,109.9 L1075.9,110.0 L1077.0,110.2 L1078.1,110.4 L1079.1,110.5 L1080.2,110.7 L1081.3,110.9 L1082.3,111.1 L1083.4,111.3 L1084.4,111.5 L1085.5,111.6 L1086.6,111.8 L1087.6,112.0 L1088.7,112.3 L1089.8,112.5 L1090.8,112.7 L1091.9,112.9 L1092.9,113.1 L1094.0,113.3 L1095.1,113.6 L1096.1,113.8 L1097.2,114.0 L1098.2,114.3 L1099.3,114.5 L1100.3,114.8 L1101.4,115.0 L1102.5,115.3 L1103.5,115.5 L1104.5,115.8 L1105.6,116.1 L1106.6,116.4 L1107.7,116.6 L1108.7,116.9 L1109.8,117.2 L1110.8,117.5 L1111.8,117.9 L1112.8,118.2 L1113.9,118.5 L1114.9,118.8 L1115.9,119.2 L1116.9,119.5 L1117.9,119.9 L1118.9,120.2 L1120.0,120.6 L1121.0,121.0 L1121.9,121.4 L1122.9,121.8 L1123.9,122.2 L1124.9,122.6 L1125.9,123.0 L1126.9,123.4 L1127.8,123.9 L1128.8,124.3 L1129.8,124.8 L1130.7,125.2 L1131.7,125.7 L1132.6,126.2 L1133.5,126.7 L1134.5,127.2 L1135.4,127.7 L1136.3,128.2 L1137.2,128.8 L1138.1,129.3 L1139.0,129.9 L1139.9,130.4 L1140.8,131.0 L1141.7,131.6 L1142.6,132.2 L1143.5,132.8 L1144.3,133.4 L1145.2,134.0 L1146.0,134.6 L1146.9,135.3 L1147.7,135.9 L1148.5,136.6 L1149.3,137.2 L1150.2,137.9 L1151.0,138.6 L1151.8,139.3 L1152.6,140.0 L1153.3,140.7 L1154.1,141.4 L1154.9,142.1 L1155.6,142.8 L1156.4,143.6 L1157.1,144.3 L1157.9,145.1 L1158.6,145.8 L1159.3,146.6 L1160.0,147.4 L1160.7,148.1 L1161.4,148.9 L1162.1,149.7 L1162.8,150.5 L1163.5,151.3 L1164.1,152.1 L1164.8,152.9 L1165.4,153.8 L1166.1,154.6 L1166.7,155.4 L1167.3,156.3 L1167.9,157.1 L1168.5,158.0 L1169.1,158.8 L1169.7,159.7 L1170.3,160.5 L1170.9,161.4 L1171.4,162.3 L1172.0,163.2 L1172.5,164.1 L1173.1,165.0 L1173.6,165.9 L1174.1,166.8 L1174.7,167.7 L1175.2,168.6 L1175.7,169.5 L1176.2,170.4 L1176.7,171.4 L1177.2,172.3 L1177.7,173.2 L1178.1,174.2 L1178.6,175.1 L1179.1,176.1 L1179.5,177.0 L1180.0,178.0 L1180.4,178.9 L1180.9,179.9 L1181.3,180.9 L1181.8,181.8 L1182.2,182.8 L1182.6,183.8 L1183.0,184.8 L1183.5,185.8 L1183.9,186.7 L1184.3,187.7 L1184.7,188.7 L1185.1,189.7 L1185.5,190.7 L1185.9,191.7 L1186.3,192.7 L1186.7,193.7 L1187.0,194.7 L1187.4,195.8 L1187.8,196.8 L1188.2,197.8 L1188.5,198.8 L1188.9,199.8 L1189.3,200.9 L1189.6,201.9 L1190.0,202.9 L1190.3,203.9 L1190.7,205.0 L1191.1,206.0 L1191.4,207.0 L1191.8,208.1 L1192.1,209.1 L1192.4,210.1 L1192.8,211.2 L1193.1,212.2 L1193.5,213.3 L1193.8,214.3 L1194.2,215.3 L1194.5,216.4 L1194.8,217.4 L1195.2,218.5 L1195.5,219.5 L1195.8,220.6 L1196.2,221.6 L1196.5,222.6 L1196.8,223.7 L1197.2,224.7 L1197.5,225.8 L1197.8,226.8 L1198.2,227.9 L1198.5,228.9 L1198.8,230.0 L1199.2,231.0 L1199.5,232.1 L1199.9,233.1 L1200.2,234.1 L1200.5,235.2 L1200.9,236.2 L1201.2,237.3 L1201.6,238.3 L1201.9,239.3 L1202.2,240.4 L1202.6,241.4 L1202.9,242.5 L1203.3,243.5 L1203.7,244.5 L1204.0,245.5 L1204.4,246.6 L1204.7,247.6 L1205.1,248.6 L1205.5,249.6 L1205.8,250.7 L1206.2,251.7 L1206.6,252.7 L1207.0,253.7 L1207.3,254.7 L1207.7,255.7 L1208.1,256.8 L1208.5,257.8 L1208.9,258.8 L1209.3,259.8 L1209.7,260.8 L1210.1,261.8 L1210.5,262.8 L1210.9,263.8 L1211.3,264.8 L1211.7,265.8 L1212.1,266.8 L1212.5,267.8 L1212.9,268.7 L1213.3,269.7 L1213.8,270.7 L1214.2,271.7 L1214.6,272.7 L1215.0,273.7 L1215.4,274.7 L1215.9,275.6 L1216.3,276.6 L1216.7,277.6 L1217.2,278.6 L1217.6,279.6 L1218.0,280.5 L1218.5,281.5 L1218.9,282.5 L1219.4,283.4 L1219.8,284.4 L1220.3,285.4 L1220.7,286.4 L1221.1,287.3 L1221.6,288.3 L1222.0,289.2 L1222.5,290.2 L1223.0,291.2 L1223.4,292.1 L1223.9,293.1 L1224.3,294.1 L1224.8,295.0 L1225.3,296.0 L1225.7,296.9 L1226.2,297.9 L1226.6,298.8 L1227.1,299.8 L1227.6,300.8 L1228.1,301.7 L1228.5,302.7 L1229.0,303.6 L1229.5,304.6 L1229.9,305.5 L1230.4,306.5 L1230.9,307.4 L1231.4,308.4 L1231.8,309.3 L1232.3,310.3 L1232.8,311.2 L1233.3,312.1 L1233.8,313.1 L1234.2,314.0 L1234.7,315.0 L1235.2,315.9 L1235.7,316.9 L1236.2,317.8 L1236.7,318.8 L1237.2,319.7 L1237.6,320.6 L1238.1,321.6 L1238.6,322.5 L1239.1,323.5 L1239.6,324.4 L1240.1,325.3 L1240.6,326.3 L1241.1,327.2 L1241.6,328.2 L1242.0,329.1 L1242.5,330.1 L1243.0,331.0 L1243.5,331.9 L1244.0,332.9 L1244.5,333.8 L1245.0,334.8 L1245.5,335.7 L1246.0,336.6 L1246.5,337.6 L1247.0,338.5 L1247.5,339.5 L1248.0,340.4 L1248.4,341.3 L1248.9,342.3 L1249.4,343.2 L1249.9,344.2 L1250.4,345.1 L1250.9,346.0 L1251.4,347.0 L1251.9,347.9 L1252.4,348.9 L1252.9,349.8 L1253.4,350.7 L1253.9,351.7 L1254.4,352.6 L1254.9,353.6 L1255.4,354.5 L1255.9,355.4 L1256.4,356.4 L1256.9,357.3 L1257.4,358.3 L1257.9,359.2 L1258.4,360.2 L1258.9,361.1 L1259.4,362.0 L1259.9,363.0 L1260.4,363.9 L1260.9,364.9 L1261.4,365.8 L1261.9,366.7 L1262.4,367.7 L1262.9,368.6 L1263.4,369.6 L1263.9,370.5 L1264.4,371.4 L1264.9,372.4 L1265.4,373.3 L1265.9,374.3 L1266.5,375.2 L1267.0,376.1 L1267.5,377.1 L1268.0,378.0 L1268.5,379.0 L1269.0,379.9 L1269.5,380.8 L1270.0,381.8 L1270.6,382.7 L1271.1,383.7 L1271.6,384.6 L1272.1,385.6 L1272.6,386.5 L1273.2,387.4 L1273.7,388.4 L1274.2,389.3 L1274.7,390.3 L1275.3,391.2 L1275.8,392.1 L1276.3,393.1 L1276.8,394.0 L1277.4,395.0 L1277.9,395.9 L1278.4,396.8 L1278.9,397.8 L1279.5,398.7 L1280.0,399.7 L1280.6,400.6 L1281.1,401.5 L1281.6,402.5 L1282.2,403.4 L1282.7,404.4 L1283.2,405.3 L1283.8,406.2 L1284.3,407.2 L1284.9,408.1 L1285.4,409.1 L1286.0,410.0 L1286.5,411.0 L1287.1,411.9 L1287.6,412.8 L1288.2,413.8 L1288.7,414.7 L1289.3,415.6 L1289.8,416.6 L1290.4,417.5 L1290.9,418.5 L1291.5,419.4 L1292.1,420.3 L1292.6,421.3 L1293.2,422.2 L1293.8,423.1 L1294.3,424.1 L1294.9,425.0 L1295.5,425.9 L1296.1,426.9 L1296.6,427.8 L1297.2,428.7 L1297.8,429.6 L1298.4,430.6 L1299.0,431.5 L1299.6,432.4 L1300.2,433.3 L1300.8,434.2 L1301.4,435.1 L1302.0,436.0 L1302.6,437.0 L1303.2,437.9 L1303.8,438.8 L1304.4,439.7 L1305.0,440.6 L1305.6,441.5 L1306.2,442.4 L1306.9,443.2 L1307.5,444.1 L1308.1,445.0 L1308.7,445.9 L1309.4,446.8 L1310.0,447.6 L1310.6,448.5 L1311.3,449.4 L1311.9,450.3 L1312.6,451.1 L1313.2,452.0 L1313.9,452.8 L1314.6,453.7 L1315.2,454.5 L1315.9,455.4 L1316.6,456.2 L1317.2,457.1 L1317.9,457.9 L1318.6,458.7 L1319.3,459.5 L1320.0,460.4 L1320.6,461.2 L1321.3,462.0 L1322.0,462.8 L1322.8,463.6 L1323.5,464.4 L1324.2,465.2 L1324.9,466.0 L1325.6,466.8 L1326.3,467.5 L1327.1,468.3 L1327.8,469.1 L1328.5,469.8 L1329.3,470.6 L1330.0,471.3 L1330.8,472.1 L1331.5,472.8 L1332.3,473.6 L1333.1,474.3 L1333.8,475.0 L1334.6,475.7 L1335.4,476.5 L1336.2,477.2 L1336.9,477.9 L1337.7,478.6 L1338.5,479.2 L1339.3,479.9 L1340.2,480.6 L1341.0,481.3 L1341.8,481.9 L1342.6,482.6 L1343.4,483.2 L1344.3,483.9 L1345.1,484.5 L1345.9,485.2 L1346.8,485.8 L1347.6,486.4 L1348.5,487.0 L1349.4,487.6 L1350.2,488.2 L1351.1,488.8 L1352.0,489.4 L1352.8,490.0 L1353.7,490.6 L1354.6,491.2 L1355.5,491.7 L1356.4,492.3 L1357.3,492.8 L1358.2,493.4 L1359.1,493.9 L1360.0,494.5 L1360.9,495.0 L1361.8,495.5 L1362.8,496.1 L1363.7,496.6 L1364.6,497.1 L1365.6,497.6 L1366.5,498.1 L1367.4,498.6 L1368.4,499.1 L1369.3,499.6 L1370.3,500.1 L1371.2,500.5 L1372.2,501.0 L1373.1,501.5 L1374.1,501.9 L1375.0,502.4 L1376.0,502.8 L1377.0,503.3 L1378.0,503.7 L1378.9,504.2 L1379.9,504.6 L1380.9,505.0 L1381.9,505.4 L1382.9,505.9 L1383.8,506.3 L1384.8,506.7 L1385.8,507.1 L1386.8,507.5 L1387.8,507.9 L1388.8,508.3 L1389.8,508.7 L1390.8,509.0 L1391.8,509.4 L1392.8,509.8 L1393.8,510.2 L1394.9,510.5 L1395.9,510.9 L1396.9,511.2 L1397.9,511.6 L1398.9,511.9 L1399.9,512.3 L1401.0,512.6 L1402.0,513.0 L1403.0,513.3 L1404.0,513.6 L1405.1,513.9 L1406.1,514.3 L1407.1,514.6 L1408.1,514.9 L1409.2,515.2 L1410.2,515.5 L1411.2,515.8 L1412.3,516.1 L1413.3,516.4 L1414.4,516.7 L1415.4,517.0 L1416.4,517.3 L1417.5,517.5 L1418.5,517.8 L1419.5,518.1 L1420.6,518.4 L1421.6,518.6 L1422.7,518.9 L1423.7,519.1 L1424.8,519.4 L1425.8,519.7 L1426.8,519.9 L1427.9,520.2 L1428.9,520.4 L1430.0,520.6 L1431.0,520.9 L1432.1,521.1 L1433.1,521.4 L1434.2,521.6 L1435.2,521.8 L1436.3,522.0 L1437.3,522.3 L1438.4,522.5 L1439.4,522.7 L1440.5,522.9 L1441.5,523.1 L1442.6,523.3 L1443.6,523.6 L1444.7,523.8 L1445.7,524.0 L1446.8,524.2 L1447.8,524.4 L1448.9,524.6 L1449.9,524.8 L1451.0,525.0 L1452.1,525.2 L1453.1,525.4 L1454.2,525.5 L1455.2,525.7 L1456.3,525.9 L1457.3,526.1 L1458.4,526.3 L1459.4,526.5 L1460.5,526.6 L1461.6,526.8 L1462.6,527.0 L1463.7,527.2 L1464.7,527.4 L1465.8,527.5 L1466.9,527.7 L1467.9,527.9 L1469.0,528.0 L1470.0,528.2 L1471.1,528.4 L1472.1,528.6 L1473.2,528.7 L1474.3,528.9 L1475.3,529.1 L1476.4,529.2 L1477.4,529.4 L1478.5,529.5 L1479.6,529.7 L1480.6,529.9 L1481.7,530.0 L1482.8,530.2 L1483.8,530.4 L1484.9,530.5 L1485.9,530.7 L1487.0,530.8 L1488.1,531.0 L1489.1,531.2 L1490.2,531.3 L1491.2,531.5 L1492.3,531.6 L1493.4,531.8 L1494.4,532.0 L1495.5,532.1 L1496.5,532.3 L1497.6,532.4 L1498.7,532.6 L1499.7,532.8 L1500.8,532.9 L1501.9,533.1 L1502.9,533.3 L1504.0,533.4 L1505.0,533.6 L1506.1,533.8 L1507.2,533.9 L1508.2,534.1 L1509.3,534.3 L1510.3,534.4 L1511.4,534.6 L1512.5,534.8 L1513.5,534.9 L1514.6,535.1 L1515.6,535.3 L1516.7,535.4 L1517.8,535.6 L1518.8,535.8 L1519.9,536.0 L1520.9,536.2 L1522.0,536.3 L1523.0,536.5 L1524.1,536.7 L1525.2,536.9 L1526.2,537.0 L1527.3,537.2 L1528.3,537.4 L1529.4,537.6 L1530.5,537.8 L1531.5,538.0 L1532.6,538.1 L1533.6,538.3 L1534.7,538.5 L1535.7,538.7 L1536.8,538.9 L1537.9,539.1 L1538.9,539.2 L1540.0,539.4 L1541.0,539.6 L1542.1,539.8 L1543.1,540.0 L1544.2,540.2 L1545.3,540.4 L1546.3,540.6 L1547.4,540.7 L1548.4,540.9 L1549.5,541.1 L1550.5,541.3 L1551.6,541.5 L1552.7,541.7 L1553.7,541.9 L1554.8,542.1 L1555.8,542.3 L1556.9,542.4 L1557.9,542.6 L1559.0,542.8 L1560.0,543.0 L1561.1,543.2 L1562.2,543.4 L1563.2,543.6 L1564.3,543.8 L1565.3,544.0 L1566.4,544.1 L1567.4,544.3 L1568.5,544.5 L1569.6,544.7 L1570.6,544.9 L1571.7,545.1 L1572.7,545.3 L1573.8,545.5 L1574.8,545.6 L1575.9,545.8 L1576.9,546.0 L1578.0,546.2 L1579.1,546.4 L1580.1,546.6 L1581.2,546.7 L1582.2,546.9 L1583.3,547.1 L1584.3,547.3 L1585.4,547.5 L1586.5,547.7 L1587.5,547.8 L1588.6,548.0 L1589.6,548.2 L1590.7,548.4 L1591.7,548.5 L1592.8,548.7 L1593.9,548.9 L1594.9,549.1 L1596.0,549.2 L1597.0,549.4 L1598.1,549.6 L1599.2,549.8 L1600.2,549.9 L1601.3,550.1 L1602.3,550.3 L1603.4,550.4 L1604.4,550.6 L1605.5,550.8 L1606.6,550.9 L1607.6,551.1 L1608.7,551.3 L1609.7,551.4 L1610.8,551.6 L1611.9,551.8 L1612.9,551.9 L1614.0,552.1 L1615.0,552.2 L1616.1,552.4 L1617.2,552.5 L1618.2,552.7 L1619.3,552.8 L1620.3,553.0 L1621.4,553.1 L1622.5,553.3 L1623.5,553.4 L1624.6,553.6 L1625.6,553.7 L1626.7,553.9 L1627.8,554.0 L1628.8,554.1 L1629.9,554.3 L1630.9,554.4 L1632.0,554.6 L1633.1,554.7 L1634.1,554.8 L1635.2,555.0 L1636.3,555.1 L1637.3,555.2 L1638.4,555.3 L1639.5,555.5 L1640.5,555.6 L1641.6,555.7 L1642.6,555.8 L1643.7,555.9 L1644.8,556.1 L1645.8,556.2 L1646.9,556.3 L1648.0,556.4 L1649.0,556.5 L1650.1,556.6 L1651.2,556.7 L1652.2,556.8 L1653.3,556.9 L1654.4,557.0 L1655.4,557.1 L1656.5,557.2 L1657.6,557.3 L1658.6,557.4 L1659.7,557.5 L1660.8,557.6 L1661.8,557.6 L1662.9,557.7 L1664.0,557.8 L1665.1,557.9 L1666.1,558.0 L1667.2,558.0 L1668.3,558.1 L1669.3,558.2 L1670.4,558.2 L1671.5,558.3 L1672.5,558.4 L1673.6,558.4 L1674.7,558.5 L1675.8,558.5 L1676.8,558.6 L1677.9,558.6 L1679.0,558.7 L1680.1,558.7 L1681.1,558.8 L1682.2,558.8 L1683.3,558.9 L1684.4,558.9 L1685.4,558.9 L1686.5,559.0 L1687.6,559.0 L1688.7,559.0 L1689.7,559.0 L1690.8,559.1 L1691.9,559.1 L1693.0,559.1 L1694.0,559.1 L1695.1,559.1 L1696.2,559.1 L1697.3,559.1 L1698.4,559.1 L1699.4,559.1 L1700.5,559.1 L1701.6,559.1"/>
<path stroke="#0000ff" d="M319.0,97.0 L320.2,97.0 L321.4,97.1 L322.6,97.1 L323.8,97.1 L324.9,97.2 L326.1,97.2 L327.3,97.2 L328.5,97.3 L329.7,97.3 L330.9,97.3 L332.1,97.3 L333.3,97.3 L334.5,97.4 L335.6,97.4 L336.8,97.4 L338.0,97.4 L339.2,97.4 L340.4,97.5 L341.6,97.5 L342.8,97.5 L344.0,97.5 L345.2,97.5 L346.3,97.5 L347.5,97.5 L348.7,97.6 L349.9,97.6 L351.1,97.6 L352.3,97.6 L353.5,97.6 L354.7,97.6 L355.8,97.6 L357.0,97.6 L358.2,97.6 L359.4,97.6 L360.6,97.6 L361.8,97.6 L363.0,97.6 L364.2,97.6 L365.3,97.6 L366.5,97.6 L367.7,97.6 L368.9,97.6 L370.1,97.6 L371.3,97.6 L372.5,97.5 L373.7,97.5 L374.8,97.5 L376.0,97.5 L377.2,97.5 L378.4,97.5 L379.6,97.5 L380.8,97.5 L382.0,97.5 L383.2,97.4 L384.3,97.4 L385.5,97.4 L386.7,97.4 L387.9,97.4 L389.1,97.4 L390.3,97.3 L391.5,97.3 L392.6,97.3 L393.8,97.3 L395.0,97.3 L396.2,97.2 L397.4,97.2 L398.6,97.2 L399.8,97.2 L401.0,97.1 L402.1,97.1 L403.3,97.1 L404.5,97.1 L405.7,97.0 L406.9,97.0 L408.1,97.0 L409.3,96.9 L410.4,96.9 L411.6,96.9 L412.8,96.9 L414.0,96.8 L415.2,96.8 L416.4,96.8 L417.6,96.7 L418.8,96.7 L419.9,96.7 L421.1,96.6 L422.3,96.6 L423.5,96.6 L424.7,96.5 L425.9,96.5 L427.1,96.5 L428.2,96.4 L429.4,96.4 L430.6,96.4 L431.8,96.3 L433.0,96.3 L434.2,96.3 L435.4,96.2 L436.5,96.2 L437.7,96.1 L438.9,96.1 L440.1,96.1 L441.3,96.0 L442.5,96.0 L443.7,96.0 L444.8,95.9 L446.0,95.9 L447.2,95.8 L448.4,95.8 L449.6,95.8 L450.8,95.7 L452.0,95.7 L453.2,95.6 L454.3,95.6 L455.5,95.6 L456.7,95.5 L457.9,95.5 L459.1,95.4 L460.3,95.4 L461.5,95.4 L462.6,95.3 L463.8,95.3 L465.0,95.2 L466.2,95.2 L467.4,95.2 L468.6,95.1 L469.8,95.1 L470.9,95.0 L472.1,95.0 L473.3,95.0 L474.5,94.9 L475.7,94.9 L476.9,94.8 L478.1,94.8 L479.2,94.8 L480.4,94.7 L481.6,94.7 L482.8,94.6 L484.0,94.6 L485.2,94.6 L486.4,94.5 L487.5,94.5 L488.7,94.4 L489.9,94.4 L491.1,94.4 L492.3,94.3 L493.5,94.3 L494.7,94.3 L495.8,94.2 L497.0,94.2 L498.2,94.1 L499.4,94.1 L500.6,94.1 L501.8,94.0 L503.0,94.0 L504.1,94.0 L505.3,93.9 L506.5,93.9 L507.7,93.9 L508.9,93.8 L510.1,93.8 L511.3,93.7 L512.5,93.7 L513.6,93.7 L514.8,93.6 L516.0,93.6 L517.2,93.6 L518.4,93.6 L519.6,93.5 L520.8,93.5 L521.9,93.5 L523.1,93.4 L524.3,93.4 L525.5,93.4 L526.7,93.3 L527.9,93.3 L529.1,93.3 L530.2,93.3 L531.4,93.2 L532.6,93.2 L533.8,93.2 L535.0,93.2 L536.2,93.1 L537.4,93.1 L538.6,93.1 L539.7,93.1 L540.9,93.0 L542.1,93.0 L543.3,93.0 L544.5,93.0 L545.7,92.9 L546.9,92.9 L548.0,92.9 L549.2,92.9 L550.4,92.9 L551.6,92.9 L552.8,92.8 L554.0,92.8 L555.2,92.8 L556.4,92.8 L557.5,92.8 L558.7,92.8 L559.9,92.8 L561.1,92.7 L562.3,92.7 L563.5,92.7 L564.7,92.7 L565.8,92.7 L567.0,92.7 L568.2,92.7 L569.4,92.7 L570.6,92.7 L571.8,92.7 L573.0,92.7 L574.2,92.7 L575.3,92.7 L576.5,92.7 L577.7,92.6 L578.9,92.6 L580.1,92.6 L581.3,92.6 L582.5,92.6 L583.7,92.6 L584.8,92.6 L586.0,92.6 L587.2,92.6 L588.4,92.6 L589.6,92.6 L590.8,92.6 L592.0,92.6 L593.2,92.6 L594.3,92.7 L595.5,92.7 L596.7,92.7 L597.9,92.7 L599.1,92.7 L600.3,92.7 L601.5,92.7 L602.7,92.7 L603.8,92.7 L605.0,92.7 L606.2,92.7 L607.4,92.7 L608.6,92.7 L609.8,92.7 L611.0,92.8 L612.2,92.8 L613.3,92.8 L614.5,92.8 L615.7,92.8 L616.9,92.8 L618.1,92.8 L619.3,92.8 L620.5,92.8 L621.7,92.9 L622.8,92.9 L624.0,92.9 L625.2,92.9 L626.4,92.9 L627.6,92.9 L628.8,92.9 L630.0,93.0 L631.2,93.0 L632.3,93.0 L633.5,93.0 L634.7,93.0 L635.9,93.0 L637.1,93.1 L638.3,93.1 L639.5,93.1 L640.7,93.1 L641.8,93.1 L643.0,93.2 L644.2,93.2 L645.4,93.2 L646.6,93.2 L647.8,93.2 L649.0,93.2 L650.2,93.3 L651.4,93.3 L652.5,93.3 L653.7,93.3 L654.9,93.4 L656.1,93.4 L657.3,93.4 L658.5,93.4 L659.7,93.4 L660.9,93.5 L662.0,93.5 L663.2,93.5 L664.4,93.5 L665.6,93.6 L666.8,93.6 L668.0,93.6 L669.2,93.6 L670.4,93.6 L671.5,93.7 L672.7,93.7 L673.9,93.7 L675.1,93.7 L676.3,93.8 L677.5,93.8 L678.7,93.8 L679.9,93.8 L681.0,93.9 L682.2,93.9 L683.4,93.9 L684.6,93.9 L685.8,94.0 L687.0,94.0 L688.2,94.0 L689.4,94.0 L690.5,94.1 L691.7,94.1 L692.9,94.1 L694.1,94.1 L695.3,94.2 L696.5,94.2 L697.7,94.2 L698.9,94.2 L700.1,94.3 L701.2,94.3 L702.4,94.3 L703.6,94.3 L704.8,94.4 L706.0,94.4 L707.2,94.4 L708.4,94.4 L709.6,94.5 L710.7,94.5 L711.9,94.5 L713.1,94.5 L714.3,94.6 L715.5,94.6 L716.7,94.6 L717.9,94.7 L719.1,94.7 L720.2,94.7 L721.4,94.7 L722.6,94.8 L723.8,94.8 L725.0,94.8 L726.2,94.8 L727.4,94.8 L728.6,94.9 L729.7,94.9 L730.9,94.9 L732.1,94.9 L733.3,95.0 L734.5,95.0 L735.7,95.0 L736.9,95.0 L738.1,95.1 L739.2,95.1 L740.4,95.1 L741.6,95.1 L742.8,95.2 L744.0,95.2 L745.2,95.2 L746.4,95.2 L747.5,95.2 L748.7,95.3 L749.9,95.3 L751.1,95.3 L752.3,95.3 L753.5,95.4 L754.7,95.4 L755.9,95.4 L757.0,95.4 L758.2,95.4 L759.4,95.5 L760.6,95.5 L761.8,95.5 L763.0,95.5 L764.2,95.5 L765.4,95.6 L766.5,95.6 L767.7,95.6 L768.9,95.6 L770.1,95.6 L771.3,95.6 L772.5,95.7 L773.7,95.7 L774.8,95.7 L776.0,95.7 L777.2,95.7 L778.4,95.7 L779.6,95.8 L780.8,95.8 L782.0,95.8 L783.1,95.8 L784.3,95.8 L785.5,95.8 L786.7,95.8 L787.9,95.9 L789.1,95.9 L790.3,95.9 L791.5,95.9 L792.6,95.9 L793.8,95.9 L795.0,95.9 L796.2,95.9 L797.4,95.9 L798.6,96.0 L799.8,96.0 L800.9,96.0 L802.1,96.0 L803.3,96.0 L804.5,96.0 L805.7,96.0 L806.9,96.0 L808.1,96.0 L809.2,96.0 L810.4,96.0 L811.6,96.0 L812.8,96.0 L814.0,96.0 L815.2,96.0 L816.4,96.0 L817.5,96.0 L818.7,96.0 L819.9,96.1 L821.1,96.1 L822.3,96.1 L823.5,96.1 L824.7,96.1 L825.8,96.1 L827.0,96.1 L828.2,96.1 L829.4,96.1 L830.6,96.1 L831.8,96.1 L833.0,96.1 L834.1,96.1 L835.3,96.1 L836.5,96.1 L837.7,96.1 L838.9,96.1 L840.1,96.1 L841.2,96.1 L842.4,96.1 L843.6,96.1 L844.8,96.0 L846.0,96.0 L847.2,96.0 L848.4,96.0 L849.5,96.0 L850.7,96.0 L851.9,96.0 L853.1,96.0 L854.3,96.0 L855.5,96.0 L856.7,96.0 L857.8,96.0 L859.0,96.0 L860.2,96.0 L861.4,96.0 L862.6,96.0 L863.8,96.0 L865.0,96.0 L866.1,96.0 L867.3,96.0 L868.5,96.0 L869.7,96.0 L870.9,96.0 L872.1,96.0 L873.3,96.0 L874.4,96.0 L875.6,96.0 L876.8,96.0 L878.0,96.0 L879.2,96.0 L880.4,96.0 L881.5,96.0 L882.7,96.0 L883.9,96.0 L885.1,96.0 L886.3,96.0 L887.5,95.9 L888.7,95.9 L889.8,95.9 L891.0,95.9 L892.2,95.9 L893.4,95.9 L894.6,95.9 L895.8,95.9 L897.0,95.9 L898.2,95.9 L899.3,95.9 L900.5,95.9 L901.7,95.9 L902.9,95.9 L904.1,95.9 L905.3,95.9 L906.5,95.9 L907.6,96.0 L908.8,96.0 L910.0,96.0 L911.2,96.0 L912.4,96.0 L913.6,96.0 L914.8,96.0 L915.9,96.0 L917.1,96.0 L918.3,96.0 L919.5,96.0 L920.7,96.0 L921.9,96.0 L923.1,96.0 L924.3,96.0 L925.4,96.0 L926.6,96.0 L927.8,96.0 L929.0,96.0 L930.2,96.1 L931.4,96.1 L932.6,96.1 L933.8,96.1 L934.9,96.1 L936.1,96.1 L937.3,96.1 L938.5,96.1 L939.7,96.1 L940.9,96.2 L942.1,96.2 L943.3,96.2 L944.4,96.2 L945.6,96.2 L946.8,96.2 L948.0,96.2 L949.2,96.3 L950.4,96.3 L951.6,96.3 L952.8,96.3 L954.0,96.3 L955.1,96.4 L956.3,96.4 L957.5,96.4 L958.7,96.4 L959.9,96.4 L961.1,96.5 L962.3,96.5 L963.5,96.5 L964.7,96.5 L965.8,96.6 L967.0,96.6 L968.2,96.6 L969.4,96.6 L970.6,96.7 L971.8,96.7 L973.0,96.7 L974.2,96.8 L975.4,96.8 L976.6,96.8 L977.8,96.9 L978.9,96.9 L980.1,96.9 L981.3,97.0 L982.5,97.0 L983.7,97.0 L984.9,97.1 L986.1,97.1 L987.3,97.2 L988.5,97.2 L989.7,97.2 L990.9,97.3 L992.0,97.3 L993.2,97.4 L994.4,97.4 L995.6,97.5 L996.8,97.5 L998.0,97.6 L999.2,97.6 L1000.4,97.6 L1001.6,97.7 L1002.8,97.7 L1004.0,97.8 L1005.2,97.9 L1006.4,97.9 L1007.6,98.0 L1008.7,98.0 L1009.9,98.1 L1011.1,98.1 L1012.3,98.2 L1013.5,98.3 L1014.7,98.3 L1015.9,98.4 L1017.1,98.4 L1018.3,98.5 L1019.5,98.6 L1020.7,98.6 L1021.9,98.7 L1023.1,98.8 L1024.3,98.8 L1025.5,98.9 L1026.7,99.0 L1027.9,99.0 L1029.1,99.1 L1030.2,99.2 L1031.4,99.3 L1032.6,99.3 L1033.8,99.4 L1035.0,99.5 L1036.2,99.6 L1037.4,99.7 L1038.6,99.7 L1039.8,99.8 L1041.0,99.9 L1042.2,100.0 L1043.4,100.1 L1044.6,100.2 L1045.8,100.3 L1047.0,100.4 L1048.2,100.4 L1049.4,100.5 L1050.6,100.6 L1051.8,100.7 L1053.0,100.8 L1054.2,100.9 L1055.4,101.0 L1056.6,101.1 L1057.8,101.2 L1059.0,101.4 L1060.2,101.5 L1061.4,101.6 L1062.6,101.7 L1063.8,101.8 L1064.9,102.0 L1066.1,102.1 L1067.3,102.2 L1068.5,102.4 L1069.7,102.5 L1070.9,102.7 L1072.0,102.8 L1073.2,103.0 L1074.4,103.2 L1075.6,103.4 L1076.7,103.6 L1077.9,103.8 L1079.0,104.0 L1080.2,104.2 L1081.4,104.4 L1082.5,104.6 L1083.6,104.9 L1084.8,105.1 L1085.9,105.4 L1087.1,105.7 L1088.2,105.9 L1089.3,106.2 L1090.4,106.5 L1091.5,106.8 L1092.7,107.2 L1093.8,107.5 L1094.9,107.9 L1095.9,108.2 L1097.0,108.6 L1098.1,109.0 L1099.2,109.4 L1100.3,109.8 L1101.3,110.2 L1102.4,110.7 L1103.4,111.1 L1104.5,111.6 L1105.5,112.1 L1106.5,112.6 L1107.6,113.1 L1108.6,113.6 L1109.6,114.2 L1110.6,114.7 L1111.6,115.3 L1112.6,115.9 L1113.5,116.5 L1114.5,117.1 L1115.5,117.8 L1116.4,118.4 L1117.4,119.1 L1118.3,119.7 L1119.2,120.4 L1120.2,121.1 L1121.1,121.8 L1122.0,122.5 L1122.9,123.3 L1123.8,124.0 L1124.7,124.8 L1125.6,125.5 L1126.4,126.3 L1127.3,127.1 L1128.2,127.9 L1129.0,128.7 L1129.9,129.5 L1130.7,130.3 L1131.5,131.1 L1132.3,132.0 L1133.1,132.8 L1133.9,133.7 L1134.7,134.5 L1135.5,135.4 L1136.3,136.3 L1137.1,137.2 L1137.8,138.1 L1138.6,138.9 L1139.3,139.8 L1140.1,140.8 L1140.8,141.7 L1141.5,142.6 L1142.3,143.5 L1143.0,144.4 L1143.7,145.4 L1144.4,146.3 L1145.0,147.3 L1145.7,148.2 L1146.4,149.2 L1147.1,150.1 L1147.7,151.1 L1148.4,152.1 L1149.0,153.1 L1149.7,154.0 L1150.3,155.0 L1150.9,156.0 L1151.5,157.0 L1152.2,158.0 L1152.8,159.0 L1153.4,160.0 L1154.0,161.1 L1154.5,162.1 L1155.1,163.1 L1155.7,164.1 L1156.3,165.2 L1156.8,166.2 L1157.4,167.3 L1157.9,168.3 L1158.5,169.4 L1159.0,170.4 L1159.6,171.5 L1160.1,172.5 L1160.6,173.6 L1161.1,174.7 L1161.6,175.7 L1162.2,176.8 L1162.7,177.9 L1163.2,179.0 L1163.6,180.1 L1164.1,181.2 L1164.6,182.3 L1165.1,183.4 L1165.6,184.4 L1166.0,185.6 L1166.5,186.7 L1167.0,187.8 L1167.4,188.9 L1167.9,190.0 L1168.3,191.1 L1168.8,192.2 L1169.2,193.3 L1169.6,194.5 L1170.1,195.6 L1170.5,196.7 L1170.9,197.8 L1171.3,199.0 L1171.7,200.1 L1172.1,201.2 L1172.5,202.4 L1172.9,203.5 L1173.3,204.7 L1173.7,205.8 L1174.1,206.9 L1174.5,208.1 L1174.9,209.2 L1175.3,210.4 L1175.7,211.5 L1176.0,212.7 L1176.4,213.8 L1176.8,215.0 L1177.1,216.1 L1177.5,217.3 L1177.9,218.4 L1178.2,219.6 L1178.6,220.8 L1178.9,221.9 L1179.3,223.1 L1179.6,224.2 L1180.0,225.4 L1180.3,226.5 L1180.7,227.7 L1181.0,228.9 L1181.3,230.0 L1181.7,231.2 L1182.0,232.3 L1182.3,233.5 L1182.7,234.6 L1183.0,235.8 L1183.3,237.0 L1183.7,238.1 L1184.0,239.3 L1184.3,240.4 L1184.6,241.6 L1184.9,242.8 L1185.2,243.9 L1185.5,245.1 L1185.9,246.2 L1186.2,247.4 L1186.5,248.6 L1186.8,249.7 L1187.1,250.9 L1187.4,252.0 L1187.7,253.2 L1188.0,254.4 L1188.3,255.5 L1188.6,256.7 L1188.9,257.8 L1189.1,259.0 L1189.4,260.2 L1189.7,261.3 L1190.0,262.5 L1190.3,263.6 L1190.6,264.8 L1190.9,266.0 L1191.1,267.1 L1191.4,268.3 L1191.7,269.5 L1192.0,270.6 L1192.2,271.8 L1192.5,272.9 L1192.8,274.1 L1193.1,275.3 L1193.3,276.4 L1193.6,277.6 L1193.9,278.7 L1194.1,279.9 L1194.4,281.1 L1194.7,282.2 L1194.9,283.4 L1195.2,284.6 L1195.4,285.7 L1195.7,286.9 L1196.0,288.0 L1196.2,289.2 L1196.5,290.4 L1196.7,291.5 L1197.0,292.7 L1197.2,293.9 L1197.5,295.0 L1197.7,296.2 L1198.0,297.3 L1198.2,298.5 L1198.5,299.7 L1198.7,300.8 L1199.0,302.0 L1199.2,303.2 L1199.5,304.3 L1199.7,305.5 L1200.0,306.6 L1200.2,307.8 L1200.4,309.0 L1200.7,310.1 L1200.9,311.3 L1201.2,312.4 L1201.4,313.6 L1201.6,314.8 L1201.9,315.9 L1202.1,317.1 L1202.4,318.3 L1202.6,319.4 L1202.8,320.6 L1203.1,321.7 L1203.3,322.9 L1203.5,324.1 L1203.8,325.2 L1204.0,326.4 L1204.2,327.5 L1204.5,328.7 L1204.7,329.9 L1204.9,331.0 L1205.2,332.2 L1205.4,333.4 L1205.6,334.5 L1205.9,335.7 L1206.1,336.8 L1206.3,338.0 L1206.6,339.2 L1206.8,340.3 L1207.0,341.5 L1207.3,342.6 L1207.5,343.8 L1207.7,345.0 L1208.0,346.1 L1208.2,347.3 L1208.4,348.4 L1208.7,349.6 L1208.9,350.7 L1209.1,351.9 L1209.4,353.1 L1209.6,354.2 L1209.8,355.4 L1210.1,356.5 L1210.3,357.7 L1210.6,358.9 L1210.8,360.0 L1211.0,361.2 L1211.3,362.3 L1211.5,363.5 L1211.7,364.6 L1212.0,365.8 L1212.2,367.0 L1212.4,368.1 L1212.7,369.3 L1212.9,370.4 L1213.2,371.6 L1213.4,372.7 L1213.6,373.9 L1213.9,375.0 L1214.1,376.2 L1214.4,377.4 L1214.6,378.5 L1214.9,379.7 L1215.1,380.8 L1215.3,382.0 L1215.6,383.1 L1215.8,384.3 L1216.1,385.4 L1216.3,386.6 L1216.6,387.7 L1216.8,388.9 L1217.1,390.1 L1217.3,391.2 L1217.6,392.4 L1217.8,393.5 L1218.1,394.7 L1218.3,395.8 L1218.6,397.0 L1218.9,398.1 L1219.1,399.3 L1219.4,400.4 L1219.6,401.6 L1219.9,402.7 L1220.2,403.9 L1220.4,405.0 L1220.7,406.2 L1221.0,407.3 L1221.2,408.5 L1221.5,409.6 L1221.8,410.8 L1222.0,411.9 L1222.3,413.0 L1222.6,414.2 L1222.9,415.3 L1223.1,416.5 L1223.4,417.6 L1223.7,418.8 L1224.0,419.9 L1224.3,421.1 L1224.5,422.2 L1224.8,423.4 L1225.1,424.5 L1225.4,425.6 L1225.7,426.8 L1226.0,427.9 L1226.3,429.1 L1226.6,430.2 L1226.9,431.4 L1227.2,432.5 L1227.5,433.6 L1227.8,434.8 L1228.1,435.9 L1228.4,437.1 L1228.7,438.2 L1229.0,439.3 L1229.3,440.5 L1229.6,441.6 L1229.9,442.8 L1230.3,443.9 L1230.6,445.0 L1230.9,446.2 L1231.2,447.3 L1231.6,448.5 L1231.9,449.6 L1232.2,450.7 L1232.5,451.9 L1232.9,453.0 L1233.2,454.1 L1233.5,455.3 L1233.9,456.4 L1234.2,457.5 L1234.6,458.7 L1234.9,459.8 L1235.3,460.9 L1235.6,462.1 L1236.0,463.2 L1236.3,464.3 L1236.7,465.5 L1237.0,466.6 L1237.4,467.7 L1237.8,468.8 L1238.1,470.0 L1238.5,471.1 L1238.9,472.2 L1239.2,473.4 L1239.6,474.5 L1240.0,475.6 L1240.4,476.7 L1240.7,477.9 L1241.1,479.0 L1241.5,480.1 L1241.9,481.2 L1242.3,482.4 L1242.7,483.5 L1243.1,484.6 L1243.5,485.7 L1243.9,486.9 L1244.3,488.0 L1244.7,489.1 L1245.1,490.2 L1245.5,491.3 L1245.9,492.5 L1246.3,493.6 L1246.7,494.7 L1247.1,495.8 L1247.5,496.9 L1247.9,498.0 L1248.3,499.2 L1248.8,500.3 L1249.2,501.4 L1249.6,502.5 L1250.0,503.6 L1250.5,504.7 L1250.9,505.8 L1251.3,507.0 L1251.8,508.1 L1252.2,509.2 L1252.6,510.3 L1253.1,511.4 L1253.5,512.5 L1253.9,513.6 L1254.4,514.7 L1254.8,515.8 L1255.3,516.9 L1255.7,518.0 L1256.2,519.1 L1256.6,520.2 L1257.1,521.4 L1257.5,522.5 L1258.0,523.6 L1258.4,524.7 L1258.9,525.8 L1259.4,526.9 L1259.8,528.0 L1260.3,529.1 L1260.8,530.2 L1261.2,531.3 L1261.7,532.4 L1262.2,533.5 L1262.6,534.6 L1263.1,535.6 L1263.6,536.7 L1264.1,537.8 L1264.6,538.9 L1265.0,540.0 L1265.5,541.1 L1266.0,542.2 L1266.5,543.3 L1267.0,544.4 L1267.5,545.5 L1268.0,546.6 L1268.4,547.7 L1268.9,548.7 L1269.4,549.8 L1269.9,550.9 L1270.4,552.0 L1270.9,553.1 L1271.4,554.2 L1271.9,555.3 L1272.4,556.3 L1272.9,557.4 L1273.4,558.5 L1273.9,559.6 L1274.5,560.7 L1275.0,561.7 L1275.5,562.8 L1276.0,563.9 L1276.5,565.0 L1277.0,566.0 L1277.5,567.1 L1278.1,568.2 L1278.6,569.3 L1279.1,570.3 L1279.6,571.4 L1280.1,572.5 L1280.7,573.5 L1281.2,574.6 L1281.7,575.7 L1282.3,576.7 L1282.8,577.8 L1283.3,578.9 L1283.9,579.9 L1284.4,581.0 L1284.9,582.1 L1285.5,583.1 L1286.0,584.2 L1286.6,585.2 L1287.1,586.3 L1287.7,587.3 L1288.2,588.4 L1288.8,589.4 L1289.3,590.5 L1289.9,591.5 L1290.4,592.6 L1291.0,593.6 L1291.6,594.7 L1292.1,595.7 L1292.7,596.8 L1293.3,597.8 L1293.8,598.8 L1294.4,599.9 L1295.0,600.9 L1295.6,601.9 L1296.2,603.0 L1296.8,604.0 L1297.3,605.0 L1297.9,606.1 L1298.5,607.1 L1299.1,608.1 L1299.7,609.1 L1300.3,610.2 L1300.9,611.2 L1301.5,612.2 L1302.2,613.2 L1302.8,614.2 L1303.4,615.2 L1304.0,616.2 L1304.6,617.2 L1305.3,618.3 L1305.9,619.3 L1306.5,620.3 L1307.1,621.3 L1307.8,622.3 L1308.4,623.2 L1309.1,624.2 L1309.7,625.2 L1310.4,626.2 L1311.0,627.2 L1311.7,628.2 L1312.3,629.2 L1313.0,630.2 L1313.7,631.1 L1314.3,632.1 L1315.0,633.1 L1315.7,634.1 L1316.4,635.0 L1317.1,636.0 L1317.8,636.9 L1318.4,637.9 L1319.1,638.9 L1319.8,639.8 L1320.5,640.8 L1321.2,641.7 L1322.0,642.7 L1322.7,643.6 L1323.4,644.6 L1324.1,645.5 L1324.8,646.4 L1325.6,647.4 L1326.3,648.3 L1327.0,649.2 L1327.8,650.2 L1328.5,651.1 L1329.3,652.0 L1330.0,652.9 L1330.8,653.9 L1331.6,654.8 L1332.3,655.7 L1333.1,656.6 L1333.9,657.5 L1334.7,658.4 L1335.4,659.3 L1336.2,660.2 L1337.0,661.0 L1337.8,661.9 L1338.6,662.8 L1339.4,663.7 L1340.3,664.5 L1341.1,665.4 L1341.9,666.2 L1342.7,667.1 L1343.6,667.9 L1344.4,668.8 L1345.2,669.6 L1346.1,670.4 L1346.9,671.2 L1347.8,672.1 L1348.7,672.9 L1349.5,673.7 L1350.4,674.5 L1351.3,675.2 L1352.2,676.0 L1353.1,676.8 L1354.0,677.6 L1354.9,678.3 L1355.8,679.1 L1356.7,679.8 L1357.6,680.5 L1358.5,681.3 L1359.5,682.0 L1360.4,682.7 L1361.4,683.4 L1362.3,684.1 L1363.3,684.8 L1364.2,685.4 L1365.2,686.1 L1366.2,686.7 L1367.1,687.4 L1368.1,688.0 L1369.1,688.7 L1370.1,689.3 L1371.1,689.9 L1372.1,690.5 L1373.2,691.1 L1374.2,691.7 L1375.2,692.2 L1376.2,692.8 L1377.3,693.4 L1378.3,693.9 L1379.3,694.5 L1380.4,695.0 L1381.4,695.5 L1382.5,696.0 L1383.6,696.5 L1384.6,697.0 L1385.7,697.5 L1386.8,698.0 L1387.8,698.5 L1388.9,699.0 L1390.0,699.4 L1391.1,699.9 L1392.2,700.4 L1393.3,700.8 L1394.4,701.2 L1395.5,701.7 L1396.6,702.1 L1397.7,702.5 L1398.8,702.9 L1399.9,703.3 L1401.0,703.7 L1402.1,704.1 L1403.2,704.5 L1404.3,704.8 L1405.4,705.2 L1406.6,705.6 L1407.7,705.9 L1408.8,706.3 L1409.9,706.6 L1411.1,707.0 L1412.2,707.3 L1413.3,707.6 L1414.5,708.0 L1415.6,708.3 L1416.8,708.6 L1417.9,708.9 L1419.0,709.2 L1420.2,709.5 L1421.3,709.8 L1422.5,710.1 L1423.6,710.4 L1424.8,710.6 L1425.9,710.9 L1427.1,711.2 L1428.3,711.5 L1429.4,711.7 L1430.6,712.0 L1431.7,712.2 L1432.9,712.5 L1434.1,712.7 L1435.2,713.0 L1436.4,713.2 L1437.5,713.5 L1438.7,713.7 L1439.9,713.9 L1441.1,714.1 L1442.2,714.4 L1443.4,714.6 L1444.6,714.8 L1445.7,715.0 L1446.9,715.3 L1448.1,715.5 L1449.3,715.7 L1450.4,715.9 L1451.6,716.1 L1452.8,716.3 L1454.0,716.5 L1455.2,716.7 L1456.3,716.9 L1457.5,717.1 L1458.7,717.3 L1459.9,717.5 L1461.1,717.7 L1462.2,717.9 L1463.4,718.1 L1464.6,718.3 L1465.8,718.5 L1467.0,718.6 L1468.2,718.8 L1469.3,719.0 L1470.5,719.2 L1471.7,719.4 L1472.9,719.6 L1474.1,719.8 L1475.2,720.0 L1476.4,720.2 L1477.6,720.3 L1478.8,720.5 L1480.0,720.7 L1481.2,720.9 L1482.3,721.1 L1483.5,721.3 L1484.7,721.5 L1485.9,721.7 L1487.1,721.9 L1488.2,722.1 L1489.4,722.3 L1490.6,722.5 L1491.8,722.7 L1492.9,722.9 L1494.1,723.1 L1495.3,723.3 L1496.5,723.5 L1497.7,723.7 L1498.8,723.9 L1500.0,724.1 L1501.2,724.3 L1502.4,724.5 L1503.5,724.7 L1504.7,724.9 L1505.9,725.1 L1507.0,725.3 L1508.2,725.5 L1509.4,725.7 L1510.6,725.9 L1511.7,726.2 L1512.9,726.4 L1514.1,726.6 L1515.3,726.8 L1516.4,727.0 L1517.6,727.2 L1518.8,727.4 L1519.9,727.6 L1521.1,727.8 L1522.3,728.1 L1523.4,728.3 L1524.6,728.5 L1525.8,728.7 L1527.0,728.9 L1528.1,729.1 L1529.3,729.3 L1530.5,729.5 L1531.6,729.8 L1532.8,730.0 L1534.0,730.2 L1535.1,730.4 L1536.3,730.6 L1537.5,730.8 L1538.6,731.0 L1539.8,731.3 L1541.0,731.5 L1542.1,731.7 L1543.3,731.9 L1544.5,732.1 L1545.6,732.3 L1546.8,732.5 L1548.0,732.8 L1549.1,733.0 L1550.3,733.2 L1551.5,733.4 L1552.6,733.6 L1553.8,733.8 L1555.0,734.0 L1556.1,734.3 L1557.3,734.5 L1558.4,734.7 L1559.6,734.9 L1560.8,735.1 L1561.9,735.3 L1563.1,735.5 L1564.3,735.7 L1565.4,735.9 L1566.6,736.1 L1567.8,736.4 L1568.9,736.6 L1570.1,736.8 L1571.3,737.0 L1572.4,737.2 L1573.6,737.4 L1574.8,737.6 L1575.9,737.8 L1577.1,738.0 L1578.3,738.2 L1579.4,738.4 L1580.6,738.6 L1581.7,738.8 L1582.9,739.0 L1584.1,739.2 L1585.2,739.4 L1586.4,739.6 L1587.6,739.8 L1588.7,740.0 L1589.9,740.2 L1591.1,740.4 L1592.2,740.6 L1593.4,740.8 L1594.6,741.0 L1595.7,741.2 L1596.9,741.4 L1598.1,741.6 L1599.2,741.7 L1600.4,741.9 L1601.6,742.1 L1602.7,742.3 L1603.9,742.5 L1605.1,742.7 L1606.2,742.8 L1607.4,743.0 L1608.6,743.2 L1609.7,743.4 L1610.9,743.6 L1612.1,743.7 L1613.2,743.9 L1614.4,744.1 L1615.6,744.3 L1616.8,744.4 L1617.9,744.6 L1619.1,744.8 L1620.3,744.9 L1621.4,745.1 L1622.6,745.3 L1623.8,745.4 L1624.9,745.6 L1626.1,745.8 L1627.3,745.9 L1628.5,746.1 L1629.6,746.2 L1630.8,746.4 L1632.0,746.5 L1633.2,746.7 L1634.3,746.8 L1635.5,747.0 L1636.7,747.1 L1637.8,747.3 L1639.0,747.4 L1640.2,747.6 L1641.4,747.7 L1642.5,747.8 L1643.7,748.0 L1644.9,748.1 L1646.1,748.2 L1647.3,748.4 L1648.4,748.5 L1649.6,748.6 L1650.8,748.7 L1652.0,748.9 L1653.1,749.0 L1654.3,749.1 L1655.5,749.2 L1656.7,749.3 L1657.9,749.5 L1659.0,749.6 L1660.2,749.7 L1661.4,749.8 L1662.6,749.9 L1663.8,750.0 L1665.0,750.1 L1666.1,750.2 L1667.3,750.3 L1668.5,750.4 L1669.7,750.5 L1670.9,750.6 L1672.1,750.7 L1673.3,750.7 L1674.4,750.8 L1675.6,750.9 L1676.8,751.0 L1678.0,751.1 L1679.2,751.1 L1680.4,751.2 L1681.6,751.3 L1682.8,751.4 L1684.0,751.4 L1685.2,751.5 L1686.3,751.5 L1687.5,751.6 L1688.7,751.7 L1689.9,751.7 L1691.1,751.8 L1692.3,751.8 L1693.5,751.9 L1694.7,751.9 L1695.9,751.9 L1697.1,752.0 L1698.3,752.0 L1699.5,752.0 L1700.7,752.1 L1701.9,752.1"/>
<path stroke="#ff00ff" d="M319.0,103.7 L320.2,103.6 L321.5,103.5 L322.7,103.4 L324.0,103.3 L325.2,103.2 L326.5,103.1 L327.7,103.0 L329.0,102.9 L330.2,102.8 L331.5,102.7 L332.7,102.6 L333.9,102.6 L335.2,102.5 L336.4,102.4 L337.7,102.3 L338.9,102.2 L340.2,102.1 L341.4,102.1 L342.7,102.0 L343.9,101.9 L345.2,101.8 L346.4,101.7 L347.7,101.7 L348.9,101.6 L350.2,101.5 L351.4,101.5 L352.6,101.4 L353.9,101.3 L355.1,101.2 L356.4,101.2 L357.6,101.1 L358.9,101.0 L360.1,101.0 L361.4,100.9 L362.6,100.9 L363.9,100.8 L365.1,100.7 L366.4,100.7 L367.6,100.6 L368.9,100.6 L370.1,100.5 L371.3,100.4 L372.6,100.4 L373.8,100.3 L375.1,100.3 L376.3,100.2 L377.6,100.2 L378.8,100.1 L380.1,100.1 L381.3,100.0 L382.6,100.0 L383.8,99.9 L385.1,99.9 L386.3,99.9 L387.6,99.8 L388.8,99.8 L390.1,99.7 L391.3,99.7 L392.6,99.6 L393.8,99.6 L395.1,99.6 L396.3,99.5 L397.6,99.5 L398.8,99.5 L400.0,99.4 L401.3,99.4 L402.5,99.4 L403.8,99.3 L405.0,99.3 L406.3,99.3 L407.5,99.2 L408.8,99.2 L410.0,99.2 L411.3,99.1 L412.5,99.1 L413.8,99.1 L415.0,99.1 L416.3,99.0 L417.5,99.0 L418.8,99.0 L420.0,99.0 L421.3,98.9 L422.5,98.9 L423.8,98.9 L425.0,98.9 L426.3,98.9 L427.5,98.8 L428.8,98.8 L430.0,98.8 L431.3,98.8 L432.5,98.8 L433.8,98.7 L435.0,98.7 L436.3,98.7 L437.5,98.7 L438.8,98.7 L440.0,98.7 L441.3,98.7 L442.5,98.6 L443.7,98.6 L445.0,98.6 L446.2,98.6 L447.5,98.6 L448.7,98.6 L450.0,98.6 L451.2,98.6 L452.5,98.6 L453.7,98.5 L455.0,98.5 L456.2,98.5 L457.5,98.5 L458.7,98.5 L460.0,98.5 L461.2,98.5 L462.5,98.5 L463.7,98.5 L465.0,98.5 L466.2,98.5 L467.5,98.5 L468.7,98.5 L470.0,98.5 L471.2,98.5 L472.5,98.5 L473.7,98.5 L475.0,98.5 L476.2,98.4 L477.5,98.4 L478.7,98.4 L480.0,98.4 L481.2,98.4 L482.5,98.4 L483.7,98.4 L485.0,98.4 L486.2,98.4 L487.5,98.4 L488.7,98.4 L490.0,98.4 L491.2,98.4 L492.5,98.4 L493.7,98.4 L495.0,98.4 L496.2,98.4 L497.5,98.4 L498.7,98.4 L500.0,98.5 L501.2,98.5 L502.5,98.5 L503.7,98.5 L505.0,98.5 L506.2,98.5 L507.5,98.5 L508.7,98.5 L510.0,98.5 L511.2,98.5 L512.5,98.5 L513.7,98.5 L515.0,98.5 L516.2,98.5 L517.5,98.5 L518.7,98.5 L520.0,98.5 L521.2,98.5 L522.5,98.5 L523.7,98.5 L525.0,98.5 L526.2,98.5 L527.5,98.5 L528.7,98.5 L530.0,98.5 L531.2,98.5 L532.5,98.5 L533.7,98.5 L535.0,98.5 L536.2,98.5 L537.5,98.5 L538.7,98.5 L540.0,98.5 L541.2,98.5 L542.5,98.5 L543.7,98.5 L545.0,98.5 L546.2,98.6 L547.5,98.6 L548.7,98.6 L550.0,98.6 L551.2,98.6 L552.5,98.6 L553.7,98.6 L555.0,98.6 L556.2,98.6 L557.5,98.6 L558.7,98.6 L560.0,98.6 L561.2,98.6 L562.5,98.6 L563.7,98.6 L565.0,98.6 L566.2,98.6 L567.5,98.6 L568.7,98.5 L570.0,98.5 L571.2,98.5 L572.5,98.5 L573.7,98.5 L575.0,98.5 L576.2,98.5 L577.5,98.5 L578.7,98.5 L580.0,98.5 L581.2,98.5 L582.5,98.5 L583.7,98.5 L585.0,98.5 L586.2,98.5 L587.5,98.5 L588.7,98.5 L590.0,98.5 L591.2,98.5 L592.5,98.5 L593.7,98.5 L595.0,98.5 L596.2,98.6 L597.5,98.6 L598.7,98.6 L600.0,98.6 L601.2,98.6 L602.5,98.6 L603.7,98.6 L605.0,98.6 L606.2,98.6 L607.5,98.6 L608.7,98.6 L610.0,98.6 L611.2,98.6 L612.5,98.6 L613.7,98.7 L615.0,98.7 L616.2,98.7 L617.5,98.7 L618.7,98.7 L620.0,98.7 L621.2,98.7 L622.5,98.8 L623.7,98.8 L625.0,98.8 L626.2,98.8 L627.5,98.8 L628.7,98.9 L630.0,98.9 L631.2,98.9 L632.5,98.9 L633.7,99.0 L634.9,99.0 L636.2,99.0 L637.4,99.1 L638.7,99.1 L639.9,99.1 L641.2,99.1 L642.4,99.2 L643.7,99.2 L644.9,99.3 L646.2,99.3 L647.4,99.3 L648.7,99.4 L649.9,99.4 L651.2,99.5 L652.4,99.5 L653.7,99.6 L654.9,99.6 L656.2,99.7 L657.4,99.7 L658.6,99.8 L659.9,99.8 L661.1,99.9 L662.4,99.9 L663.6,100.0 L664.9,100.1 L666.1,100.1 L667.4,100.2 L668.6,100.3 L669.9,100.3 L671.1,100.4 L672.3,100.5 L673.6,100.5 L674.8,100.6 L676.1,100.7 L677.3,100.8 L678.6,100.9 L679.8,100.9 L681.1,101.0 L682.3,101.1 L683.6,101.2 L684.8,101.3 L686.0,101.4 L687.3,101.5 L688.5,101.6 L689.8,101.7 L691.0,101.8 L692.3,101.9 L693.5,102.0 L694.7,102.1 L696.0,102.2 L697.2,102.3 L698.5,102.4 L699.7,102.6 L701.0,102.7 L702.2,102.8 L703.4,102.9 L704.7,103.0 L705.9,103.1 L707.2,103.3 L708.4,103.4 L709.7,103.5 L710.9,103.6 L712.1,103.7 L713.4,103.8 L714.6,104.0 L715.9,104.1 L717.1,104.2 L718.4,104.3 L719.6,104.4 L720.9,104.5 L722.1,104.6 L723.3,104.8 L724.6,104.9 L725.8,105.0 L727.1,105.1 L728.3,105.2 L729.6,105.3 L730.8,105.4 L732.1,105.5 L733.3,105.6 L734.5,105.6 L735.8,105.7 L737.0,105.8 L738.3,105.9 L739.5,106.0 L740.8,106.0 L742.0,106.1 L743.3,106.2 L744.5,106.2 L745.8,106.3 L747.0,106.4 L748.3,106.4 L749.5,106.4 L750.8,106.5 L752.0,106.5 L753.3,106.6 L754.5,106.6 L755.8,106.6 L757.0,106.6 L758.3,106.6 L759.5,106.6 L760.8,106.7 L762.0,106.7 L763.3,106.7 L764.5,106.6 L765.8,106.6 L767.0,106.6 L768.3,106.6 L769.5,106.6 L770.8,106.6 L772.0,106.6 L773.3,106.5 L774.5,106.5 L775.8,106.5 L777.1,106.4 L778.3,106.4 L779.6,106.4 L780.8,106.3 L782.1,106.3 L783.3,106.3 L784.6,106.2 L785.8,106.2 L787.1,106.1 L788.3,106.1 L789.6,106.1 L790.8,106.0 L792.1,106.0 L793.4,105.9 L794.6,105.9 L795.9,105.8 L797.1,105.8 L798.4,105.8 L799.6,105.7 L800.9,105.7 L802.1,105.6 L803.4,105.6 L804.6,105.6 L805.9,105.5 L807.1,105.5 L808.4,105.5 L809.6,105.5 L810.9,105.4 L812.1,105.4 L813.4,105.4 L814.6,105.4 L815.9,105.4 L817.1,105.3 L818.4,105.3 L819.6,105.3 L820.9,105.3 L822.1,105.3 L823.4,105.3 L824.6,105.3 L825.9,105.3 L827.1,105.3 L828.4,105.3 L829.6,105.3 L830.9,105.3 L832.1,105.3 L833.4,105.4 L834.6,105.4 L835.9,105.4 L837.1,105.4 L838.4,105.4 L839.6,105.4 L840.8,105.5 L842.1,105.5 L843.3,105.5 L844.6,105.6 L845.8,105.6 L847.1,105.6 L848.3,105.6 L849.6,105.7 L850.8,105.7 L852.1,105.8 L853.3,105.8 L854.5,105.8 L855.8,105.9 L857.0,105.9 L858.3,106.0 L859.5,106.0 L860.8,106.1 L862.0,106.1 L863.2,106.2 L864.5,106.2 L865.7,106.3 L867.0,106.3 L868.2,106.4 L869.5,106.4 L870.7,106.5 L872.0,106.5 L873.2,106.6 L874.4,106.6 L875.7,106.7 L876.9,106.8 L878.2,106.8 L879.4,106.9 L880.7,106.9 L881.9,107.0 L883.1,107.1 L884.4,107.1 L885.6,107.2 L886.9,107.2 L888.1,107.3 L889.4,107.4 L890.6,107.4 L891.8,107.5 L893.1,107.6 L894.3,107.6 L895.6,107.7 L896.8,107.8 L898.1,107.8 L899.3,107.9 L900.5,108.0 L901.8,108.0 L903.0,108.1 L904.3,108.2 L905.5,108.2 L906.8,108.3 L908.0,108.4 L909.3,108.4 L910.5,108.5 L911.7,108.6 L913.0,108.6 L914.2,108.7 L915.5,108.8 L916.7,108.8 L918.0,108.9 L919.2,109.0 L920.5,109.0 L921.7,109.1 L923.0,109.2 L924.2,109.2 L925.5,109.3 L926.7,109.3 L927.9,109.4 L929.2,109.5 L930.4,109.5 L931.7,109.6 L932.9,109.6 L934.2,109.7 L935.4,109.8 L936.7,109.8 L937.9,109.9 L939.2,109.9 L940.4,110.0 L941.7,110.0 L942.9,110.1 L944.2,110.1 L945.4,110.2 L946.7,110.2 L947.9,110.3 L949.2,110.3 L950.4,110.4 L951.7,110.4 L952.9,110.5 L954.2,110.5 L955.4,110.6 L956.7,110.6 L957.9,110.7 L959.2,110.7 L960.5,110.8 L961.7,110.8 L963.0,110.9 L964.2,111.0 L965.5,111.0 L966.7,111.1 L968.0,111.1 L969.2,111.2 L970.5,111.2 L971.7,111.3 L973.0,111.3 L974.2,111.4 L975.5,111.5 L976.7,111.5 L978.0,111.6 L979.2,111.7 L980.5,111.7 L981.7,111.8 L983.0,111.9 L984.2,112.0 L985.5,112.0 L986.7,112.1 L988.0,112.2 L989.2,112.3 L990.5,112.4 L991.7,112.5 L993.0,112.6 L994.2,112.7 L995.5,112.7 L996.7,112.9 L998.0,113.0 L999.2,113.1 L1000.5,113.2 L1001.7,113.3 L1003.0,113.4 L1004.2,113.5 L1005.5,113.7 L1006.7,113.8 L1007.9,113.9 L1009.2,114.1 L1010.4,114.2 L1011.7,114.3 L1012.9,114.5 L1014.2,114.6 L1015.4,114.8 L1016.6,115.0 L1017.9,115.1 L1019.1,115.3 L1020.4,115.5 L1021.6,115.6 L1022.8,115.8 L1024.1,116.0 L1025.3,116.2 L1026.6,116.4 L1027.8,116.6 L1029.0,116.8 L1030.3,117.0 L1031.5,117.3 L1032.7,117.5 L1034.0,117.7 L1035.2,118.0 L1036.4,118.2 L1037.6,118.5 L1038.9,118.7 L1040.1,119.0 L1041.3,119.2 L1042.6,119.5 L1043.8,119.8 L1045.0,120.1 L1046.2,120.4 L1047.5,120.7 L1048.7,121.0 L1049.9,121.3 L1051.1,121.6 L1052.3,121.9 L1053.6,122.3 L1054.8,122.6 L1056.0,123.0 L1057.2,123.3 L1058.4,123.7 L1059.6,124.1 L1060.8,124.4 L1062.0,124.8 L1063.2,125.2 L1064.4,125.6 L1065.6,126.1 L1066.8,126.5 L1068.0,126.9 L1069.1,127.4 L1070.3,127.8 L1071.5,128.3 L1072.6,128.7 L1073.8,129.2 L1074.9,129.7 L1076.1,130.2 L1077.2,130.7 L1078.3,131.3 L1079.4,131.8 L1080.5,132.3 L1081.6,132.9 L1082.7,133.5 L1083.8,134.0 L1084.9,134.6 L1086.0,135.2 L1087.0,135.9 L1088.1,136.5 L1089.1,137.1 L1090.1,137.8 L1091.2,138.5 L1092.2,139.1 L1093.2,139.8 L1094.1,140.5 L1095.1,141.3 L1096.1,142.0 L1097.0,142.7 L1098.0,143.5 L1098.9,144.3 L1099.8,145.1 L1100.7,145.9 L1101.6,146.7 L1102.5,147.5 L1103.3,148.4 L1104.2,149.2 L1105.0,150.1 L1105.8,151.0 L1106.6,151.9 L1107.4,152.8 L1108.2,153.7 L1109.0,154.7 L1109.7,155.6 L1110.5,156.6 L1111.2,157.5 L1111.9,158.5 L1112.7,159.5 L1113.4,160.5 L1114.1,161.5 L1114.7,162.6 L1115.4,163.6 L1116.1,164.6 L1116.7,165.7 L1117.4,166.7 L1118.0,167.8 L1118.6,168.9 L1119.3,169.9 L1119.9,171.0 L1120.5,172.1 L1121.1,173.2 L1121.7,174.3 L1122.2,175.4 L1122.8,176.5 L1123.4,177.6 L1123.9,178.8 L1124.5,179.9 L1125.0,181.0 L1125.6,182.2 L1126.1,183.3 L1126.6,184.4 L1127.1,185.6 L1127.6,186.7 L1128.2,187.9 L1128.7,189.0 L1129.2,190.2 L1129.6,191.3 L1130.1,192.5 L1130.6,193.6 L1131.1,194.8 L1131.6,196.0 L1132.0,197.1 L1132.5,198.3 L1132.9,199.4 L1133.4,200.6 L1133.8,201.8 L1134.3,203.0 L1134.7,204.1 L1135.1,205.3 L1135.6,206.5 L1136.0,207.7 L1136.4,208.8 L1136.8,210.0 L1137.2,211.2 L1137.6,212.4 L1138.0,213.6 L1138.4,214.7 L1138.8,215.9 L1139.2,217.1 L1139.6,218.3 L1139.9,219.5 L1140.3,220.7 L1140.7,221.9 L1141.0,223.1 L1141.4,224.3 L1141.8,225.5 L1142.1,226.7 L1142.5,227.9 L1142.8,229.1 L1143.2,230.3 L1143.5,231.5 L1143.8,232.7 L1144.2,233.9 L1144.5,235.1 L1144.8,236.3 L1145.1,237.5 L1145.5,238.7 L1145.8,240.0 L1146.1,241.2 L1146.4,242.4 L1146.7,243.6 L1147.0,244.8 L1147.3,246.0 L1147.6,247.2 L1147.9,248.5 L1148.2,249.7 L1148.5,250.9 L1148.7,252.1 L1149.0,253.3 L1149.3,254.6 L1149.6,255.8 L1149.9,257.0 L1150.1,258.2 L1150.4,259.5 L1150.7,260.7 L1150.9,261.9 L1151.2,263.1 L1151.5,264.4 L1151.7,265.6 L1152.0,266.8 L1152.2,268.1 L1152.5,269.3 L1152.7,270.5 L1153.0,271.7 L1153.2,273.0 L1153.5,274.2 L1153.7,275.4 L1154.0,276.7 L1154.2,277.9 L1154.4,279.1 L1154.7,280.4 L1154.9,281.6 L1155.1,282.8 L1155.4,284.1 L1155.6,285.3 L1155.8,286.5 L1156.1,287.8 L1156.3,289.0 L1156.5,290.2 L1156.7,291.5 L1157.0,292.7 L1157.2,294.0 L1157.4,295.2 L1157.6,296.4 L1157.8,297.7 L1158.1,298.9 L1158.3,300.1 L1158.5,301.4 L1158.7,302.6 L1158.9,303.8 L1159.1,305.1 L1159.4,306.3 L1159.6,307.5 L1159.8,308.8 L1160.0,310.0 L1160.2,311.2 L1160.4,312.5 L1160.6,313.7 L1160.9,314.9 L1161.1,316.2 L1161.3,317.4 L1161.5,318.6 L1161.7,319.9 L1161.9,321.1 L1162.1,322.3 L1162.3,323.6 L1162.5,324.8 L1162.7,326.1 L1162.9,327.3 L1163.1,328.5 L1163.3,329.8 L1163.5,331.0 L1163.7,332.2 L1163.9,333.5 L1164.2,334.7 L1164.4,335.9 L1164.6,337.2 L1164.8,338.4 L1165.0,339.6 L1165.2,340.9 L1165.4,342.1 L1165.6,343.3 L1165.7,344.6 L1165.9,345.8 L1166.1,347.0 L1166.3,348.3 L1166.5,349.5 L1166.7,350.7 L1166.9,352.0 L1167.1,353.2 L1167.3,354.4 L1167.5,355.7 L1167.7,356.9 L1167.9,358.1 L1168.1,359.4 L1168.3,360.6 L1168.5,361.8 L1168.7,363.1 L1168.9,364.3 L1169.1,365.5 L1169.3,366.8 L1169.4,368.0 L1169.6,369.2 L1169.8,370.5 L1170.0,371.7 L1170.2,372.9 L1170.4,374.2 L1170.6,375.4 L1170.8,376.6 L1171.0,377.9 L1171.1,379.1 L1171.3,380.3 L1171.5,381.5 L1171.7,382.8 L1171.9,384.0 L1172.1,385.2 L1172.3,386.5 L1172.5,387.7 L1172.6,388.9 L1172.8,390.2 L1173.0,391.4 L1173.2,392.6 L1173.4,393.9 L1173.6,395.1 L1173.8,396.3 L1173.9,397.6 L1174.1,398.8 L1174.3,400.0 L1174.5,401.3 L1174.7,402.5 L1174.9,403.7 L1175.1,405.0 L1175.2,406.2 L1175.4,407.4 L1175.6,408.7 L1175.8,409.9 L1176.0,411.1 L1176.2,412.4 L1176.3,413.6 L1176.5,414.8 L1176.7,416.1 L1176.9,417.3 L1177.1,418.5 L1177.3,419.8 L1177.4,421.0 L1177.6,422.2 L1177.8,423.5 L1178.0,424.7 L1178.2,425.9 L1178.4,427.2 L1178.5,428.4 L1178.7,429.6 L1178.9,430.9 L1179.1,432.1 L1179.3,433.3 L1179.5,434.6 L1179.6,435.8 L1179.8,437.0 L1180.0,438.3 L1180.2,439.5 L1180.4,440.7 L1180.6,442.0 L1180.7,443.2 L1180.9,444.4 L1181.1,445.7 L1181.3,446.9 L1181.5,448.1 L1181.7,449.4 L1181.8,450.6 L1182.0,451.8 L1182.2,453.1 L1182.4,454.3 L1182.6,455.5 L1182.8,456.8 L1182.9,458.0 L1183.1,459.2 L1183.3,460.5 L1183.5,461.7 L1183.7,462.9 L1183.9,464.2 L1184.1,465.4 L1184.2,466.6 L1184.4,467.9 L1184.6,469.1 L1184.8,470.3 L1185.0,471.6 L1185.2,472.8 L1185.4,474.0 L1185.6,475.3 L1185.7,476.5 L1185.9,477.7 L1186.1,479.0 L1186.3,480.2 L1186.5,481.4 L1186.7,482.7 L1186.9,483.9 L1187.1,485.2 L1187.3,486.4 L1187.4,487.6 L1187.6,488.9 L1187.8,490.1 L1188.0,491.3 L1188.2,492.6 L1188.4,493.8 L1188.6,495.0 L1188.8,496.3 L1189.0,497.5 L1189.2,498.7 L1189.4,500.0 L1189.6,501.2 L1189.8,502.4 L1189.9,503.7 L1190.1,504.9 L1190.3,506.2 L1190.5,507.4 L1190.7,508.6 L1190.9,509.9 L1191.1,511.1 L1191.3,512.3 L1191.5,513.6 L1191.7,514.8 L1191.9,516.0 L1192.1,517.3 L1192.3,518.5 L1192.5,519.8 L1192.7,521.0 L1192.9,522.2 L1193.1,523.5 L1193.3,524.7 L1193.5,525.9 L1193.7,527.2 L1193.9,528.4 L1194.1,529.7 L1194.3,530.9 L1194.5,532.1 L1194.8,533.4 L1195.0,534.6 L1195.2,535.8 L1195.4,537.1 L1195.6,538.3 L1195.8,539.6 L1196.0,540.8 L1196.2,542.0 L1196.4,543.3 L1196.6,544.5 L1196.8,545.7 L1197.1,547.0 L1197.3,548.2 L1197.5,549.5 L1197.7,550.7 L1197.9,551.9 L1198.1,553.2 L1198.4,554.4 L1198.6,555.6 L1198.8,556.9 L1199.0,558.1 L1199.3,559.3 L1199.5,560.6 L1199.7,561.8 L1200.0,563.0 L1200.2,564.3 L1200.4,565.5 L1200.7,566.7 L1200.9,568.0 L1201.2,569.2 L1201.4,570.4 L1201.7,571.7 L1201.9,572.9 L1202.2,574.1 L1202.4,575.3 L1202.7,576.6 L1203.0,577.8 L1203.2,579.0 L1203.5,580.2 L1203.8,581.4 L1204.1,582.7 L1204.4,583.9 L1204.6,585.1 L1204.9,586.3 L1205.2,587.5 L1205.5,588.7 L1205.8,589.9 L1206.1,591.1 L1206.4,592.3 L1206.7,593.5 L1207.1,594.7 L1207.4,595.9 L1207.7,597.1 L1208.0,598.3 L1208.4,599.5 L1208.7,600.7 L1209.1,601.9 L1209.4,603.1 L1209.8,604.3 L1210.1,605.5 L1210.5,606.7 L1210.9,607.8 L1211.2,609.0 L1211.6,610.2 L1212.0,611.4 L1212.4,612.6 L1212.8,613.7 L1213.2,614.9 L1213.6,616.1 L1214.0,617.2 L1214.4,618.4 L1214.8,619.5 L1215.3,620.7 L1215.7,621.9 L1216.1,623.0 L1216.6,624.1 L1217.1,625.3 L1217.5,626.4 L1218.0,627.6 L1218.5,628.7 L1218.9,629.8 L1219.4,631.0 L1219.9,632.1 L1220.4,633.2 L1220.9,634.4 L1221.4,635.5 L1222.0,636.6 L1222.5,637.7 L1223.0,638.8 L1223.6,639.9 L1224.1,641.0 L1224.7,642.1 L1225.3,643.2 L1225.8,644.3 L1226.4,645.4 L1227.0,646.5 L1227.6,647.6 L1228.2,648.7 L1228.8,649.7 L1229.4,650.8 L1230.1,651.9 L1230.7,652.9 L1231.4,654.0 L1232.0,655.1 L1232.7,656.1 L1233.3,657.2 L1234.0,658.2 L1234.7,659.3 L1235.4,660.3 L1236.0,661.4 L1236.7,662.4 L1237.4,663.5 L1238.1,664.5 L1238.9,665.5 L1239.6,666.6 L1240.3,667.6 L1241.0,668.6 L1241.7,669.6 L1242.5,670.7 L1243.2,671.7 L1243.9,672.7 L1244.7,673.7 L1245.4,674.7 L1246.2,675.7 L1246.9,676.8 L1247.7,677.8 L1248.5,678.8 L1249.2,679.8 L1250.0,680.8 L1250.7,681.8 L1251.5,682.8 L1252.3,683.8 L1253.0,684.8 L1253.8,685.8 L1254.6,686.8 L1255.4,687.8 L1256.1,688.8 L1256.9,689.8 L1257.7,690.8 L1258.5,691.8 L1259.2,692.8 L1260.0,693.8 L1260.8,694.8 L1261.6,695.8 L1262.3,696.8 L1263.1,697.8 L1263.9,698.8 L1264.6,699.8 L1265.4,700.8 L1266.2,701.8 L1266.9,702.8 L1267.7,703.8 L1268.5,704.8 L1269.2,705.8 L1270.0,706.8 L1270.7,707.8 L1271.5,708.8 L1272.3,709.8 L1273.0,710.8 L1273.8,711.8 L1274.5,712.8 L1275.2,713.8 L1276.0,714.8 L1276.7,715.8 L1277.5,716.8 L1278.2,717.8 L1279.0,718.8 L1279.7,719.8 L1280.5,720.8 L1281.2,721.8 L1282.0,722.8 L1282.7,723.8 L1283.4,724.8 L1284.2,725.8 L1284.9,726.8 L1285.7,727.8 L1286.4,728.8 L1287.2,729.8 L1287.9,730.8 L1288.7,731.8 L1289.4,732.8 L1290.2,733.8 L1290.9,734.8 L1291.7,735.7 L1292.5,736.7 L1293.2,737.7 L1294.0,738.7 L1294.8,739.7 L1295.5,740.7 L1296.3,741.7 L1297.1,742.6 L1297.8,743.6 L1298.6,744.6 L1299.4,745.6 L1300.2,746.5 L1301.0,747.5 L1301.8,748.5 L1302.6,749.5 L1303.4,750.4 L1304.2,751.4 L1305.0,752.4 L1305.8,753.3 L1306.6,754.3 L1307.4,755.2 L1308.3,756.2 L1309.1,757.1 L1309.9,758.1 L1310.8,759.0 L1311.6,760.0 L1312.4,760.9 L1313.3,761.8 L1314.1,762.7 L1315.0,763.7 L1315.9,764.6 L1316.7,765.5 L1317.6,766.4 L1318.5,767.3 L1319.4,768.2 L1320.2,769.1 L1321.1,770.0 L1322.0,770.9 L1322.9,771.7 L1323.8,772.6 L1324.7,773.5 L1325.7,774.3 L1326.6,775.2 L1327.5,776.0 L1328.4,776.8 L1329.4,777.7 L1330.3,778.5 L1331.3,779.3 L1332.2,780.1 L1333.2,780.9 L1334.1,781.7 L1335.1,782.5 L1336.1,783.2 L1337.1,784.0 L1338.0,784.7 L1339.0,785.5 L1340.0,786.2 L1341.0,787.0 L1342.0,787.7 L1343.1,788.4 L1344.1,789.1 L1345.1,789.8 L1346.1,790.4 L1347.2,791.1 L1348.2,791.8 L1349.3,792.4 L1350.3,793.1 L1351.4,793.7 L1352.5,794.3 L1353.5,794.9 L1354.6,795.5 L1355.7,796.1 L1356.8,796.7 L1357.9,797.3 L1359.0,797.9 L1360.1,798.4 L1361.2,799.0 L1362.3,799.5 L1363.4,800.1 L1364.6,800.6 L1365.7,801.1 L1366.8,801.6 L1367.9,802.1 L1369.1,802.6 L1370.2,803.1 L1371.4,803.6 L1372.5,804.1 L1373.6,804.6 L1374.8,805.0 L1376.0,805.5 L1377.1,805.9 L1378.3,806.4 L1379.4,806.8 L1380.6,807.2 L1381.8,807.7 L1382.9,808.1 L1384.1,808.5 L1385.3,808.9 L1386.5,809.3 L1387.6,809.7 L1388.8,810.1 L1390.0,810.5 L1391.2,810.8 L1392.4,811.2 L1393.5,811.6 L1394.7,812.0 L1395.9,812.3 L1397.1,812.7 L1398.3,813.0 L1399.5,813.4 L1400.7,813.7 L1401.9,814.0 L1403.1,814.4 L1404.3,814.7 L1405.5,815.0 L1406.7,815.3 L1407.9,815.6 L1409.1,815.9 L1410.3,816.2 L1411.5,816.5 L1412.7,816.8 L1414.0,817.1 L1415.2,817.4 L1416.4,817.7 L1417.6,818.0 L1418.8,818.2 L1420.0,818.5 L1421.3,818.8 L1422.5,819.0 L1423.7,819.3 L1424.9,819.6 L1426.1,819.8 L1427.4,820.1 L1428.6,820.3 L1429.8,820.6 L1431.0,820.8 L1432.3,821.0 L1433.5,821.3 L1434.7,821.5 L1436.0,821.7 L1437.2,822.0 L1438.4,822.2 L1439.7,822.4 L1440.9,822.6 L1442.1,822.9 L1443.4,823.1 L1444.6,823.3 L1445.8,823.5 L1447.1,823.7 L1448.3,823.9 L1449.6,824.1 L1450.8,824.3 L1452.0,824.5 L1453.3,824.7 L1454.5,824.9 L1455.7,825.1 L1457.0,825.3 L1458.2,825.5 L1459.5,825.7 L1460.7,825.9 L1462.0,826.1 L1463.2,826.3 L1464.4,826.5 L1465.7,826.7 L1466.9,826.9 L1468.2,827.1 L1469.4,827.2 L1470.7,827.4 L1471.9,827.6 L1473.1,827.8 L1474.4,828.0 L1475.6,828.2 L1476.9,828.4 L1478.1,828.5 L1479.3,828.7 L1480.6,828.9 L1481.8,829.1 L1483.1,829.3 L1484.3,829.5 L1485.6,829.6 L1486.8,829.8 L1488.0,830.0 L1489.3,830.2 L1490.5,830.4 L1491.8,830.6 L1493.0,830.8 L1494.2,830.9 L1495.5,831.1 L1496.7,831.3 L1498.0,831.5 L1499.2,831.7 L1500.4,831.9 L1501.7,832.1 L1502.9,832.2 L1504.2,832.4 L1505.4,832.6 L1506.6,832.8 L1507.9,833.0 L1509.1,833.2 L1510.3,833.4 L1511.6,833.6 L1512.8,833.7 L1514.1,833.9 L1515.3,834.1 L1516.5,834.3 L1517.8,834.5 L1519.0,834.7 L1520.2,834.9 L1521.5,835.0 L1522.7,835.2 L1524.0,835.4 L1525.2,835.6 L1526.4,835.8 L1527.7,836.0 L1528.9,836.2 L1530.1,836.3 L1531.4,836.5 L1532.6,836.7 L1533.8,836.9 L1535.1,837.1 L1536.3,837.3 L1537.5,837.4 L1538.8,837.6 L1540.0,837.8 L1541.3,838.0 L1542.5,838.2 L1543.7,838.4 L1545.0,838.5 L1546.2,838.7 L1547.4,838.9 L1548.7,839.1 L1549.9,839.3 L1551.1,839.4 L1552.4,839.6 L1553.6,839.8 L1554.8,840.0 L1556.1,840.2 L1557.3,840.3 L1558.5,840.5 L1559.8,840.7 L1561.0,840.9 L1562.2,841.0 L1563.5,841.2 L1564.7,841.4 L1566.0,841.6 L1567.2,841.7 L1568.4,841.9 L1569.7,842.1 L1570.9,842.3 L1572.1,842.4 L1573.4,842.6 L1574.6,842.8 L1575.8,842.9 L1577.1,843.1 L1578.3,843.3 L1579.5,843.5 L1580.8,843.6 L1582.0,843.8 L1583.2,844.0 L1584.5,844.1 L1585.7,844.3 L1586.9,844.4 L1588.2,844.6 L1589.4,844.8 L1590.6,844.9 L1591.9,845.1 L1593.1,845.3 L1594.4,845.4 L1595.6,845.6 L1596.8,845.7 L1598.1,845.9 L1599.3,846.1 L1600.5,846.2 L1601.8,846.4 L1603.0,846.5 L1604.2,846.7 L1605.5,846.8 L1606.7,847.0 L1607.9,847.1 L1609.2,847.3 L1610.4,847.4 L1611.7,847.6 L1612.9,847.7 L1614.1,847.9 L1615.4,848.0 L1616.6,848.2 L1617.8,848.3 L1619.1,848.5 L1620.3,848.6 L1621.6,848.8 L1622.8,848.9 L1624.0,849.0 L1625.3,849.2 L1626.5,849.3 L1627.8,849.5 L1629.0,849.6 L1630.2,849.7 L1631.5,849.9 L1632.7,850.0 L1633.9,850.1 L1635.2,850.3 L1636.4,850.4 L1637.7,850.5 L1638.9,850.6 L1640.2,850.8 L1641.4,850.9 L1642.6,851.0 L1643.9,851.1 L1645.1,851.3 L1646.4,851.4 L1647.6,851.5 L1648.8,851.6 L1650.1,851.7 L1651.3,851.8 L1652.6,852.0 L1653.8,852.1 L1655.1,852.2 L1656.3,852.3 L1657.5,852.4 L1658.8,852.5 L1660.0,852.6 L1661.3,852.7 L1662.5,852.8 L1663.8,852.9 L1665.0,853.0 L1666.3,853.1 L1667.5,853.2 L1668.7,853.3 L1670.0,853.4 L1671.2,853.5 L1672.5,853.6 L1673.7,853.7 L1675.0,853.8 L1676.2,853.9 L1677.5,854.0 L1678.7,854.1 L1680.0,854.2 L1681.2,854.2 L1682.5,854.3 L1683.7,854.4 L1685.0,854.5 L1686.2,854.6 L1687.5,854.6 L1688.7,854.7 L1690.0,854.8 L1691.2,854.9 L1692.5,854.9 L1693.7,855.0 L1695.0,855.1 L1696.2,855.1 L1697.5,855.2 L1698.7,855.3 L1700.0,855.3 L1701.3,855.4 L1702.5,855.4 L1703.8,855.5 L1705.0,855.5 L1706.3,855.6 L1707.5,855.7 L1708.8,855.7 L1710.0,855.7 L1711.3,855.8"/>
<path stroke="#008000" d="M319.0,93.5 L320.3,93.9 L321.5,94.2 L322.8,94.5 L324.0,94.9 L325.3,95.2 L326.6,95.5 L327.8,95.8 L329.1,96.1 L330.4,96.4 L331.6,96.7 L332.9,97.0 L334.2,97.2 L335.4,97.5 L336.7,97.8 L338.0,98.0 L339.2,98.3 L340.5,98.5 L341.8,98.7 L343.0,99.0 L344.3,99.2 L345.6,99.4 L346.9,99.6 L348.1,99.8 L349.4,100.0 L350.7,100.2 L352.0,100.4 L353.2,100.5 L354.5,100.7 L355.8,100.9 L357.1,101.0 L358.4,101.2 L359.6,101.3 L360.9,101.5 L362.2,101.6 L363.5,101.8 L364.8,101.9 L366.0,102.0 L367.3,102.2 L368.6,102.3 L369.9,102.4 L371.2,102.5 L372.5,102.6 L373.7,102.7 L375.0,102.8 L376.3,102.9 L377.6,103.0 L378.9,103.0 L380.2,103.1 L381.5,103.2 L382.8,103.3 L384.0,103.3 L385.3,103.4 L386.6,103.5 L387.9,103.5 L389.2,103.6 L390.5,103.6 L391.8,103.7 L393.1,103.7 L394.4,103.8 L395.7,103.8 L397.0,103.8 L398.2,103.9 L399.5,103.9 L400.8,103.9 L402.1,104.0 L403.4,104.0 L404.7,104.0 L406.0,104.0 L407.3,104.0 L408.6,104.0 L409.9,104.1 L411.2,104.1 L412.5,104.1 L413.8,104.1 L415.1,104.1 L416.4,104.1 L417.7,104.1 L418.9,104.1 L420.2,104.1 L421.5,104.1 L422.8,104.1 L424.1,104.1 L425.4,104.1 L426.7,104.1 L428.0,104.1 L429.3,104.1 L430.6,104.1 L431.9,104.1 L433.2,104.1 L434.5,104.1 L435.8,104.1 L437.1,104.1 L438.4,104.1 L439.7,104.0 L441.0,104.0 L442.3,104.0 L443.6,104.0 L444.9,104.0 L446.1,104.0 L447.4,104.0 L448.7,104.0 L450.0,104.0 L451.3,104.0 L452.6,104.0 L453.9,104.0 L455.2,104.0 L456.5,104.0 L457.8,104.0 L459.1,104.0 L460.4,104.0 L461.7,104.0 L463.0,104.0 L464.3,104.0 L465.6,104.0 L466.8,104.0 L468.1,104.0 L469.4,104.0 L470.7,104.0 L472.0,104.0 L473.3,104.0 L474.6,104.0 L475.9,104.0 L477.2,104.0 L478.5,104.0 L479.8,104.0 L481.1,104.0 L482.4,104.0 L483.7,104.0 L485.0,104.0 L486.2,104.0 L487.5,104.0 L488.8,104.0 L490.1,104.0 L491.4,104.0 L492.7,104.0 L494.0,104.0 L495.3,104.0 L496.6,104.0 L497.9,104.0 L499.2,104.0 L500.5,104.0 L501.8,104.0 L503.0,104.0 L504.3,104.0 L505.6,104.0 L506.9,104.0 L508.2,104.0 L509.5,104.0 L510.8,104.0 L512.1,104.0 L513.4,104.0 L514.7,104.0 L516.0,104.0 L517.3,104.0 L518.5,104.0 L519.8,104.0 L521.1,104.0 L522.4,104.0 L523.7,104.0 L525.0,104.0 L526.3,104.0 L527.6,104.0 L528.9,104.0 L530.2,104.0 L531.5,104.0 L532.8,104.0 L534.0,104.0 L535.3,104.0 L536.6,104.0 L537.9,104.0 L539.2,104.0 L540.5,104.0 L541.8,104.0 L543.1,104.1 L544.4,104.1 L545.7,104.1 L547.0,104.1 L548.3,104.1 L549.6,104.1 L550.8,104.1 L552.1,104.1 L553.4,104.1 L554.7,104.1 L556.0,104.1 L557.3,104.1 L558.6,104.1 L559.9,104.1 L561.2,104.1 L562.5,104.1 L563.8,104.1 L565.1,104.1 L566.3,104.1 L567.6,104.1 L568.9,104.1 L570.2,104.1 L571.5,104.1 L572.8,104.1 L574.1,104.1 L575.4,104.1 L576.7,104.1 L578.0,104.1 L579.3,104.1 L580.6,104.1 L581.9,104.1 L583.2,104.1 L584.4,104.1 L585.7,104.1 L587.0,104.1 L588.3,104.1 L589.6,104.1 L590.9,104.1 L592.2,104.1 L593.5,104.1 L594.8,104.1 L596.1,104.1 L597.4,104.1 L598.7,104.1 L600.0,104.1 L601.3,104.1 L602.6,104.1 L603.8,104.1 L605.1,104.1 L606.4,104.1 L607.7,104.1 L609.0,104.1 L610.3,104.1 L611.6,104.1 L612.9,104.1 L614.2,104.1 L615.5,104.1 L616.8,104.1 L618.1,104.1 L619.4,104.1 L620.7,104.1 L622.0,104.1 L623.3,104.1 L624.5,104.1 L625.8,104.1 L627.1,104.1 L628.4,104.1 L629.7,104.1 L631.0,104.1 L632.3,104.1 L633.6,104.1 L634.9,104.1 L636.2,104.1 L637.5,104.1 L638.8,104.1 L640.1,104.1 L641.4,104.1 L642.7,104.1 L644.0,104.1 L645.3,104.1 L646.6,104.1 L647.8,104.1 L649.1,104.1 L650.4,104.0 L651.7,104.0 L653.0,104.0 L654.3,104.0 L655.6,104.0 L656.9,104.0 L658.2,104.0 L659.5,104.0 L660.8,104.0 L662.1,104.0 L663.4,104.0 L664.7,104.0 L666.0,104.0 L667.3,104.0 L668.6,104.0 L669.9,104.0 L671.2,104.0 L672.4,104.0 L673.7,104.0 L675.0,104.0 L676.3,104.0 L677.6,104.0 L678.9,104.0 L680.2,104.0 L681.5,104.0 L682.8,104.0 L684.1,104.0 L685.4,104.0 L686.7,104.0 L688.0,104.0 L689.3,103.9 L690.6,103.9 L691.9,103.9 L693.2,103.9 L694.5,103.9 L695.8,103.9 L697.1,103.9 L698.3,103.9 L699.6,103.9 L700.9,103.9 L702.2,103.9 L703.5,103.9 L704.8,103.9 L706.1,103.9 L707.4,103.9 L708.7,103.9 L710.0,103.9 L711.3,103.9 L712.6,103.9 L713.9,103.9 L715.2,103.9 L716.5,103.9 L717.8,103.9 L719.1,103.9 L720.4,103.9 L721.7,103.9 L722.9,103.9 L724.2,103.9 L725.5,103.9 L726.8,103.9 L728.1,103.9 L729.4,103.9 L730.7,103.8 L732.0,103.8 L733.3,103.8 L734.6,103.8 L735.9,103.8 L737.2,103.8 L738.5,103.8 L739.8,103.8 L741.1,103.8 L742.4,103.8 L743.7,103.8 L745.0,103.8 L746.2,103.8 L747.5,103.8 L748.8,103.8 L750.1,103.8 L751.4,103.8 L752.7,103.8 L754.0,103.8 L755.3,103.8 L756.6,103.8 L757.9,103.8 L759.2,103.8 L760.5,103.8 L761.8,103.8 L763.1,103.8 L764.4,103.8 L765.7,103.8 L767.0,103.8 L768.2,103.8 L769.5,103.8 L770.8,103.8 L772.1,103.8 L773.4,103.8 L774.7,103.8 L776.0,103.8 L777.3,103.8 L778.6,103.8 L779.9,103.8 L781.2,103.8 L782.5,103.8 L783.8,103.8 L785.1,103.8 L786.4,103.8 L787.6,103.8 L788.9,103.8 L790.2,103.8 L791.5,103.8 L792.8,103.8 L794.1,103.8 L795.4,103.8 L796.7,103.8 L798.0,103.8 L799.3,103.8 L800.6,103.8 L801.9,103.8 L803.2,103.8 L804.5,103.8 L805.7,103.8 L807.0,103.8 L808.3,103.9 L809.6,103.9 L810.9,103.9 L812.2,103.9 L813.5,103.9 L814.8,103.9 L816.1,103.9 L817.4,103.9 L818.7,103.9 L820.0,103.9 L821.2,103.9 L822.5,103.9 L823.8,103.9 L825.1,103.9 L826.4,103.9 L827.7,103.9 L829.0,103.9 L830.3,103.9 L831.6,103.9 L832.9,103.9 L834.2,103.9 L835.4,104.0 L836.7,104.0 L838.0,104.0 L839.3,104.0 L840.6,104.0 L841.9,104.0 L843.2,104.0 L844.5,104.0 L845.8,104.0 L847.1,104.0 L848.4,104.0 L849.6,104.0 L850.9,104.0 L852.2,104.1 L853.5,104.1 L854.8,104.1 L856.1,104.1 L857.4,104.1 L858.7,104.1 L860.0,104.1 L861.2,104.1 L862.5,104.1 L863.8,104.1 L865.1,104.2 L866.4,104.2 L867.7,104.2 L869.0,104.2 L870.3,104.2 L871.6,104.2 L872.8,104.2 L874.1,104.2 L875.4,104.3 L876.7,104.3 L878.0,104.3 L879.3,104.3 L880.6,104.3 L881.9,104.3 L883.2,104.3 L884.4,104.4 L885.7,104.4 L887.0,104.4 L888.3,104.4 L889.6,104.4 L890.9,104.4 L892.2,104.5 L893.5,104.5 L894.8,104.5 L896.1,104.5 L897.3,104.5 L898.6,104.5 L899.9,104.6 L901.2,104.6 L902.5,104.6 L903.8,104.6 L905.1,104.6 L906.4,104.7 L907.7,104.7 L908.9,104.7 L910.2,104.7 L911.5,104.7 L912.8,104.8 L914.1,104.8 L915.4,104.8 L916.7,104.8 L918.0,104.9 L919.3,104.9 L920.6,104.9 L921.9,104.9 L923.2,105.0 L924.4,105.0 L925.7,105.0 L927.0,105.0 L928.3,105.1 L929.6,105.1 L930.9,105.1 L932.2,105.1 L933.5,105.2 L934.8,105.2 L936.1,105.2 L937.4,105.3 L938.7,105.3 L940.0,105.3 L941.3,105.4 L942.6,105.4 L943.9,105.4 L945.1,105.4 L946.4,105.5 L947.7,105.5 L949.0,105.5 L950.3,105.6 L951.6,105.6 L952.9,105.7 L954.2,105.7 L955.5,105.7 L956.8,105.8 L958.1,105.8 L959.4,105.8 L960.7,105.9 L962.0,105.9 L963.3,106.0 L964.6,106.0 L965.9,106.0 L967.2,106.1 L968.5,106.1 L969.8,106.2 L971.1,106.2 L972.4,106.2 L973.7,106.3 L975.0,106.3 L976.3,106.4 L977.6,106.4 L978.9,106.5 L980.2,106.5 L981.5,106.6 L982.8,106.6 L984.2,106.7 L985.5,106.7 L986.8,106.8 L988.1,106.8 L989.4,106.9 L990.7,106.9 L992.0,107.0 L993.3,107.0 L994.6,107.1 L995.9,107.2 L997.2,107.2 L998.5,107.3 L999.8,107.3 L1001.1,107.4 L1002.4,107.5 L1003.7,107.6 L1005.0,107.7 L1006.3,107.7 L1007.7,107.8 L1009.0,107.9 L1010.3,108.0 L1011.6,108.1 L1012.9,108.2 L1014.2,108.4 L1015.4,108.5 L1016.7,108.6 L1018.0,108.7 L1019.3,108.9 L1020.6,109.0 L1021.9,109.2 L1023.2,109.3 L1024.5,109.5 L1025.8,109.7 L1027.1,109.8 L1028.3,110.0 L1029.6,110.2 L1030.9,110.4 L1032.2,110.6 L1033.5,110.8 L1034.7,111.1 L1036.0,111.3 L1037.3,111.6 L1038.5,111.8 L1039.8,112.1 L1041.0,112.4 L1042.3,112.6 L1043.6,112.9 L1044.8,113.2 L1046.1,113.6 L1047.3,113.9 L1048.6,114.2 L1049.8,114.6 L1051.0,114.9 L1052.3,115.3 L1053.5,115.7 L1054.7,116.1 L1056.0,116.5 L1057.2,116.9 L1058.4,117.4 L1059.6,117.8 L1060.8,118.3 L1062.0,118.8 L1063.2,119.2 L1064.4,119.8 L1065.5,120.3 L1066.7,120.8 L1067.9,121.4 L1069.0,121.9 L1070.2,122.5 L1071.3,123.1 L1072.4,123.7 L1073.5,124.3 L1074.7,125.0 L1075.8,125.6 L1076.8,126.3 L1077.9,127.0 L1079.0,127.7 L1080.0,128.4 L1081.1,129.1 L1082.1,129.9 L1083.1,130.6 L1084.2,131.4 L1085.2,132.2 L1086.2,133.0 L1087.1,133.8 L1088.1,134.6 L1089.0,135.4 L1090.0,136.2 L1090.9,137.1 L1091.8,137.9 L1092.7,138.8 L1093.6,139.7 L1094.5,140.6 L1095.4,141.5 L1096.2,142.4 L1097.0,143.3 L1097.9,144.3 L1098.7,145.2 L1099.5,146.2 L1100.3,147.1 L1101.1,148.1 L1101.8,149.1 L1102.6,150.1 L1103.3,151.1 L1104.1,152.1 L1104.8,153.1 L1105.5,154.1 L1106.2,155.1 L1106.9,156.2 L1107.6,157.2 L1108.2,158.3 L1108.9,159.3 L1109.5,160.4 L1110.2,161.5 L1110.8,162.6 L1111.4,163.7 L1112.0,164.8 L1112.6,165.9 L1113.2,167.0 L1113.8,168.1 L1114.4,169.3 L1115.0,170.4 L1115.5,171.5 L1116.1,172.7 L1116.6,173.8 L1117.1,175.0 L1117.7,176.2 L1118.2,177.3 L1118.7,178.5 L1119.2,179.7 L1119.7,180.9 L1120.1,182.1 L1120.6,183.3 L1121.1,184.5 L1121.6,185.7 L1122.0,186.9 L1122.5,188.1 L1122.9,189.4 L1123.3,190.6 L1123.8,191.8 L1124.2,193.1 L1124.6,194.3 L1125.0,195.5 L1125.4,196.8 L1125.8,198.0 L1126.2,199.3 L1126.6,200.5 L1127.0,201.8 L1127.4,203.1 L1127.7,204.3 L1128.1,205.6 L1128.5,206.9 L1128.8,208.1 L1129.2,209.4 L1129.5,210.7 L1129.9,212.0 L1130.2,213.2 L1130.6,214.5 L1130.9,215.8 L1131.2,217.1 L1131.6,218.4 L1131.9,219.7 L1132.2,221.0 L1132.5,222.3 L1132.9,223.5 L1133.2,224.8 L1133.5,226.1 L1133.8,227.4 L1134.1,228.7 L1134.4,230.0 L1134.7,231.3 L1135.0,232.6 L1135.3,233.9 L1135.6,235.2 L1135.9,236.5 L1136.2,237.8 L1136.5,239.1 L1136.8,240.3 L1137.0,241.6 L1137.3,242.9 L1137.6,244.2 L1137.9,245.5 L1138.2,246.8 L1138.5,248.1 L1138.7,249.3 L1139.0,250.6 L1139.3,251.9 L1139.6,253.2 L1139.9,254.5 L1140.1,255.8 L1140.4,257.0 L1140.7,258.3 L1141.0,259.6 L1141.2,260.9 L1141.5,262.1 L1141.8,263.4 L1142.0,264.7 L1142.3,266.0 L1142.6,267.3 L1142.8,268.5 L1143.1,269.8 L1143.3,271.1 L1143.6,272.3 L1143.9,273.6 L1144.1,274.9 L1144.4,276.2 L1144.6,277.4 L1144.9,278.7 L1145.1,280.0 L1145.4,281.2 L1145.7,282.5 L1145.9,283.8 L1146.2,285.1 L1146.4,286.3 L1146.7,287.6 L1146.9,288.9 L1147.1,290.1 L1147.4,291.4 L1147.6,292.7 L1147.9,293.9 L1148.1,295.2 L1148.4,296.5 L1148.6,297.7 L1148.9,299.0 L1149.1,300.3 L1149.3,301.5 L1149.6,302.8 L1149.8,304.1 L1150.0,305.3 L1150.3,306.6 L1150.5,307.8 L1150.8,309.1 L1151.0,310.4 L1151.2,311.6 L1151.5,312.9 L1151.7,314.2 L1151.9,315.4 L1152.1,316.7 L1152.4,318.0 L1152.6,319.2 L1152.8,320.5 L1153.1,321.7 L1153.3,323.0 L1153.5,324.3 L1153.7,325.5 L1154.0,326.8 L1154.2,328.1 L1154.4,329.3 L1154.6,330.6 L1154.9,331.8 L1155.1,333.1 L1155.3,334.4 L1155.5,335.6 L1155.7,336.9 L1156.0,338.2 L1156.2,339.4 L1156.4,340.7 L1156.6,342.0 L1156.8,343.2 L1157.0,344.5 L1157.3,345.7 L1157.5,347.0 L1157.7,348.3 L1157.9,349.5 L1158.1,350.8 L1158.3,352.1 L1158.6,353.3 L1158.8,354.6 L1159.0,355.9 L1159.2,357.1 L1159.4,358.4 L1159.6,359.7 L1159.8,360.9 L1160.0,362.2 L1160.3,363.5 L1160.5,364.7 L1160.7,366.0 L1160.9,367.3 L1161.1,368.5 L1161.3,369.8 L1161.5,371.1 L1161.7,372.3 L1161.9,373.6 L1162.1,374.9 L1162.3,376.1 L1162.6,377.4 L1162.8,378.7 L1163.0,380.0 L1163.2,381.2 L1163.4,382.5 L1163.6,383.8 L1163.8,385.0 L1164.0,386.3 L1164.2,387.6 L1164.4,388.9 L1164.6,390.1 L1164.8,391.4 L1165.0,392.7 L1165.2,393.9 L1165.4,395.2 L1165.6,396.5 L1165.8,397.8 L1166.0,399.0 L1166.2,400.3 L1166.4,401.6 L1166.6,402.8 L1166.8,404.1 L1167.0,405.4 L1167.2,406.7 L1167.4,407.9 L1167.6,409.2 L1167.8,410.5 L1168.0,411.8 L1168.2,413.0 L1168.4,414.3 L1168.6,415.6 L1168.8,416.9 L1169.0,418.1 L1169.2,419.4 L1169.4,420.7 L1169.6,422.0 L1169.8,423.2 L1170.0,424.5 L1170.2,425.8 L1170.4,427.1 L1170.6,428.3 L1170.8,429.6 L1171.0,430.9 L1171.2,432.2 L1171.4,433.4 L1171.6,434.7 L1171.8,436.0 L1172.0,437.3 L1172.2,438.5 L1172.4,439.8 L1172.6,441.1 L1172.8,442.4 L1173.0,443.6 L1173.2,444.9 L1173.4,446.2 L1173.6,447.5 L1173.8,448.8 L1174.0,450.0 L1174.2,451.3 L1174.4,452.6 L1174.5,453.9 L1174.7,455.1 L1174.9,456.4 L1175.1,457.7 L1175.3,459.0 L1175.5,460.3 L1175.7,461.5 L1175.9,462.8 L1176.1,464.1 L1176.3,465.4 L1176.5,466.7 L1176.7,467.9 L1176.9,469.2 L1177.1,470.5 L1177.3,471.8 L1177.5,473.1 L1177.7,474.3 L1177.9,475.6 L1178.1,476.9 L1178.3,478.2 L1178.5,479.5 L1178.7,480.7 L1178.8,482.0 L1179.0,483.3 L1179.2,484.6 L1179.4,485.9 L1179.6,487.1 L1179.8,488.4 L1180.0,489.7 L1180.2,491.0 L1180.4,492.3 L1180.6,493.5 L1180.8,494.8 L1181.0,496.1 L1181.2,497.4 L1181.4,498.7 L1181.6,499.9 L1181.8,501.2 L1182.0,502.5 L1182.2,503.8 L1182.4,505.1 L1182.6,506.3 L1182.8,507.6 L1183.0,508.9 L1183.2,510.2 L1183.4,511.5 L1183.6,512.8 L1183.8,514.0 L1184.0,515.3 L1184.2,516.6 L1184.4,517.9 L1184.6,519.2 L1184.8,520.4 L1185.0,521.7 L1185.2,523.0 L1185.4,524.3 L1185.6,525.6 L1185.8,526.9 L1186.0,528.1 L1186.2,529.4 L1186.4,530.7 L1186.6,532.0 L1186.8,533.3 L1187.0,534.5 L1187.2,535.8 L1187.4,537.1 L1187.6,538.4 L1187.8,539.7 L1188.0,541.0 L1188.2,542.2 L1188.4,543.5 L1188.6,544.8 L1188.8,546.1 L1189.0,547.4 L1189.2,548.6 L1189.4,549.9 L1189.6,551.2 L1189.8,552.5 L1190.0,553.8 L1190.2,555.1 L1190.4,556.3 L1190.6,557.6 L1190.8,558.9 L1191.0,560.2 L1191.2,561.5 L1191.4,562.7 L1191.7,564.0 L1191.9,565.3 L1192.1,566.6 L1192.3,567.9 L1192.5,569.2 L1192.7,570.4 L1192.9,571.7 L1193.1,573.0 L1193.3,574.3 L1193.5,575.6 L1193.7,576.8 L1194.0,578.1 L1194.2,579.4 L1194.4,580.7 L1194.6,582.0 L1194.8,583.3 L1195.0,584.5 L1195.2,585.8 L1195.5,587.1 L1195.7,588.4 L1195.9,589.7 L1196.1,590.9 L1196.3,592.2 L1196.5,593.5 L1196.7,594.8 L1197.0,596.1 L1197.2,597.3 L1197.4,598.6 L1197.6,599.9 L1197.8,601.2 L1198.1,602.5 L1198.3,603.7 L1198.5,605.0 L1198.7,606.3 L1198.9,607.6 L1199.2,608.9 L1199.4,610.1 L1199.6,611.4 L1199.8,612.7 L1200.1,614.0 L1200.3,615.3 L1200.5,616.5 L1200.7,617.8 L1201.0,619.1 L1201.2,620.4 L1201.4,621.7 L1201.7,622.9 L1201.9,624.2 L1202.1,625.5 L1202.4,626.8 L1202.6,628.0 L1202.9,629.3 L1203.1,630.6 L1203.4,631.9 L1203.6,633.1 L1203.8,634.4 L1204.1,635.7 L1204.4,636.9 L1204.6,638.2 L1204.9,639.5 L1205.1,640.8 L1205.4,642.0 L1205.6,643.3 L1205.9,644.6 L1206.2,645.8 L1206.5,647.1 L1206.7,648.3 L1207.0,649.6 L1207.3,650.9 L1207.6,652.1 L1207.9,653.4 L1208.1,654.6 L1208.4,655.9 L1208.7,657.2 L1209.0,658.4 L1209.3,659.7 L1209.6,660.9 L1209.9,662.2 L1210.2,663.4 L1210.6,664.7 L1210.9,665.9 L1211.2,667.2 L1211.5,668.4 L1211.8,669.6 L1212.2,670.9 L1212.5,672.1 L1212.8,673.4 L1213.2,674.6 L1213.5,675.8 L1213.9,677.1 L1214.2,678.3 L1214.6,679.5 L1215.0,680.8 L1215.3,682.0 L1215.7,683.2 L1216.1,684.4 L1216.5,685.7 L1216.8,686.9 L1217.2,688.1 L1217.6,689.3 L1218.0,690.5 L1218.4,691.8 L1218.8,693.0 L1219.2,694.2 L1219.7,695.4 L1220.1,696.6 L1220.5,697.8 L1220.9,699.0 L1221.4,700.2 L1221.8,701.4 L1222.3,702.6 L1222.7,703.8 L1223.2,705.0 L1223.7,706.2 L1224.1,707.4 L1224.6,708.5 L1225.1,709.7 L1225.6,710.9 L1226.1,712.1 L1226.6,713.3 L1227.1,714.4 L1227.6,715.6 L1228.1,716.8 L1228.6,717.9 L1229.2,719.1 L1229.7,720.3 L1230.2,721.4 L1230.8,722.6 L1231.3,723.7 L1231.9,724.9 L1232.4,726.0 L1233.0,727.2 L1233.6,728.3 L1234.2,729.5 L1234.8,730.6 L1235.3,731.8 L1235.9,732.9 L1236.5,734.0 L1237.1,735.2 L1237.8,736.3 L1238.4,737.4 L1239.0,738.6 L1239.6,739.7 L1240.2,740.8 L1240.9,741.9 L1241.5,743.0 L1242.2,744.1 L1242.8,745.3 L1243.5,746.4 L1244.1,747.5 L1244.8,748.6 L1245.5,749.7 L1246.2,750.8 L1246.8,751.9 L1247.5,753.0 L1248.2,754.1 L1248.9,755.1 L1249.6,756.2 L1250.3,757.3 L1251.0,758.4 L1251.7,759.5 L1252.5,760.5 L1253.2,761.6 L1253.9,762.7 L1254.6,763.8 L1255.4,764.8 L1256.1,765.9 L1256.9,767.0 L1257.6,768.0 L1258.4,769.1 L1259.1,770.1 L1259.9,771.2 L1260.6,772.2 L1261.4,773.3 L1262.2,774.3 L1263.0,775.4 L1263.7,776.4 L1264.5,777.5 L1265.3,778.5 L1266.1,779.5 L1266.9,780.6 L1267.7,781.6 L1268.5,782.6 L1269.3,783.6 L1270.1,784.7 L1270.9,785.7 L1271.8,786.7 L1272.6,787.7 L1273.4,788.7 L1274.2,789.7 L1275.1,790.7 L1275.9,791.7 L1276.8,792.7 L1277.6,793.7 L1278.4,794.7 L1279.3,795.7 L1280.1,796.7 L1281.0,797.7 L1281.9,798.7 L1282.7,799.7 L1283.6,800.7 L1284.5,801.7 L1285.3,802.6 L1286.2,803.6 L1287.1,804.6 L1288.0,805.5 L1288.9,806.5 L1289.7,807.5 L1290.6,808.4 L1291.5,809.4 L1292.4,810.3 L1293.3,811.3 L1294.2,812.2 L1295.1,813.2 L1296.1,814.1 L1297.0,815.1 L1297.9,816.0 L1298.8,816.9 L1299.7,817.9 L1300.7,818.8 L1301.6,819.7 L1302.5,820.6 L1303.5,821.5 L1304.4,822.4 L1305.3,823.3 L1306.3,824.2 L1307.2,825.1 L1308.2,826.0 L1309.1,826.9 L1310.1,827.8 L1311.1,828.6 L1312.0,829.5 L1313.0,830.4 L1314.0,831.2 L1315.0,832.1 L1315.9,832.9 L1316.9,833.8 L1317.9,834.6 L1318.9,835.5 L1319.9,836.3 L1320.9,837.1 L1321.9,837.9 L1322.9,838.7 L1323.9,839.5 L1324.9,840.3 L1325.9,841.1 L1327.0,841.9 L1328.0,842.7 L1329.0,843.5 L1330.0,844.3 L1331.1,845.0 L1332.1,845.8 L1333.1,846.5 L1334.2,847.3 L1335.2,848.0 L1336.3,848.7 L1337.3,849.5 L1338.4,850.2 L1339.5,850.9 L1340.5,851.6 L1341.6,852.3 L1342.7,853.0 L1343.8,853.6 L1344.8,854.3 L1345.9,855.0 L1347.0,855.6 L1348.1,856.3 L1349.2,856.9 L1350.3,857.6 L1351.4,858.2 L1352.5,858.8 L1353.6,859.4 L1354.7,860.0 L1355.8,860.6 L1357.0,861.2 L1358.1,861.8 L1359.2,862.4 L1360.4,862.9 L1361.5,863.5 L1362.6,864.0 L1363.8,864.6 L1364.9,865.1 L1366.1,865.6 L1367.2,866.1 L1368.4,866.6 L1369.6,867.1 L1370.7,867.6 L1371.9,868.1 L1373.1,868.5 L1374.3,869.0 L1375.4,869.4 L1376.6,869.9 L1377.8,870.3 L1379.0,870.7 L1380.2,871.1 L1381.4,871.6 L1382.6,872.0 L1383.8,872.3 L1385.0,872.7 L1386.2,873.1 L1387.4,873.5 L1388.7,873.8 L1389.9,874.2 L1391.1,874.5 L1392.3,874.9 L1393.6,875.2 L1394.8,875.5 L1396.0,875.9 L1397.3,876.2 L1398.5,876.5 L1399.8,876.8 L1401.0,877.1 L1402.3,877.4 L1403.5,877.7 L1404.8,877.9 L1406.0,878.2 L1407.3,878.5 L1408.5,878.7 L1409.8,879.0 L1411.1,879.3 L1412.3,879.5 L1413.6,879.7 L1414.9,880.0 L1416.1,880.2 L1417.4,880.4 L1418.7,880.7 L1420.0,880.9 L1421.2,881.1 L1422.5,881.3 L1423.8,881.5 L1425.1,881.7 L1426.4,881.9 L1427.7,882.1 L1429.0,882.3 L1430.2,882.5 L1431.5,882.7 L1432.8,882.9 L1434.1,883.1 L1435.4,883.2 L1436.7,883.4 L1438.0,883.6 L1439.3,883.7 L1440.6,883.9 L1441.9,884.1 L1443.2,884.2 L1444.5,884.4 L1445.8,884.6 L1447.1,884.7 L1448.4,884.9 L1449.7,885.0 L1451.0,885.2 L1452.3,885.3 L1453.6,885.5 L1454.9,885.6 L1456.2,885.8 L1457.5,885.9 L1458.8,886.1 L1460.1,886.2 L1461.4,886.4 L1462.7,886.5 L1464.0,886.6 L1465.3,886.8 L1466.6,886.9 L1467.9,887.1 L1469.2,887.2 L1470.5,887.4 L1471.8,887.5 L1473.1,887.6 L1474.4,887.8 L1475.7,887.9 L1477.0,888.1 L1478.3,888.2 L1479.6,888.4 L1480.9,888.5 L1482.2,888.7 L1483.5,888.8 L1484.8,889.0 L1486.1,889.1 L1487.4,889.3 L1488.7,889.4 L1490.0,889.6 L1491.3,889.7 L1492.6,889.9 L1493.9,890.0 L1495.2,890.2 L1496.5,890.3 L1497.8,890.5 L1499.0,890.6 L1500.3,890.8 L1501.6,890.9 L1502.9,891.1 L1504.2,891.2 L1505.5,891.4 L1506.8,891.5 L1508.1,891.7 L1509.4,891.9 L1510.6,892.0 L1511.9,892.2 L1513.2,892.3 L1514.5,892.5 L1515.8,892.6 L1517.1,892.8 L1518.4,892.9 L1519.6,893.1 L1520.9,893.3 L1522.2,893.4 L1523.5,893.6 L1524.8,893.7 L1526.1,893.9 L1527.4,894.1 L1528.6,894.2 L1529.9,894.4 L1531.2,894.5 L1532.5,894.7 L1533.8,894.8 L1535.1,895.0 L1536.3,895.2 L1537.6,895.3 L1538.9,895.5 L1540.2,895.6 L1541.5,895.8 L1542.7,896.0 L1544.0,896.1 L1545.3,896.3 L1546.6,896.4 L1547.9,896.6 L1549.1,896.7 L1550.4,896.9 L1551.7,897.1 L1553.0,897.2 L1554.3,897.4 L1555.5,897.5 L1556.8,897.7 L1558.1,897.9 L1559.4,898.0 L1560.6,898.2 L1561.9,898.3 L1563.2,898.5 L1564.5,898.6 L1565.8,898.8 L1567.0,899.0 L1568.3,899.1 L1569.6,899.3 L1570.9,899.4 L1572.1,899.6 L1573.4,899.7 L1574.7,899.9 L1576.0,900.0 L1577.3,900.2 L1578.5,900.4 L1579.8,900.5 L1581.1,900.7 L1582.4,900.8 L1583.6,901.0 L1584.9,901.1 L1586.2,901.3 L1587.5,901.4 L1588.8,901.6 L1590.0,901.7 L1591.3,901.9 L1592.6,902.0 L1593.9,902.2 L1595.1,902.3 L1596.4,902.5 L1597.7,902.6 L1599.0,902.8 L1600.2,902.9 L1601.5,903.1 L1602.8,903.2 L1604.1,903.4 L1605.4,903.5 L1606.6,903.7 L1607.9,903.8 L1609.2,904.0 L1610.5,904.1 L1611.7,904.2 L1613.0,904.4 L1614.3,904.5 L1615.6,904.7 L1616.9,904.8 L1618.1,904.9 L1619.4,905.1 L1620.7,905.2 L1622.0,905.4 L1623.3,905.5 L1624.5,905.6 L1625.8,905.8 L1627.1,905.9 L1628.4,906.1 L1629.7,906.2 L1630.9,906.3 L1632.2,906.5 L1633.5,906.6 L1634.8,906.7 L1636.1,906.8 L1637.3,907.0 L1638.6,907.1 L1639.9,907.2 L1641.2,907.4 L1642.5,907.5 L1643.8,907.6 L1645.0,907.7 L1646.3,907.9 L1647.6,908.0 L1648.9,908.1 L1650.2,908.2 L1651.5,908.4 L1652.7,908.5 L1654.0,908.6 L1655.3,908.7 L1656.6,908.8 L1657.9,909.0 L1659.2,909.1 L1660.5,909.2 L1661.8,909.3 L1663.0,909.4 L1664.3,909.5 L1665.6,909.6 L1666.9,909.7 L1668.2,909.9 L1669.5,910.0 L1670.8,910.1 L1672.1,910.2 L1673.4,910.3 L1674.6,910.4 L1675.9,910.5 L1677.2,910.6 L1678.5,910.7 L1679.8,910.8 L1681.1,910.9 L1682.4,911.0 L1683.7,911.1 L1685.0,911.2 L1686.3,911.3 L1687.6,911.4 L1688.9,911.5 L1690.2,911.5 L1691.5,911.6 L1692.8,911.7 L1694.1,911.8 L1695.4,911.9 L1696.7,912.0 L1698.0,912.1 L1699.3,912.1 L1700.6,912.2 L1701.9,912.3 L1703.2,912.4 L1704.5,912.5 L1705.8,912.5 L1707.1,912.6 L1708.4,912.7 L1709.7,912.8 L1711.0,912.8 L1712.3,912.9"/>
</g>
<path fill="#ff00ff" d="M1707.6,852 L1713.3,852 L1713.3,865 L1710.5,865 L1710.5,862 L1707.6,862 Z"/>
<g font-family="Liberation Sans, sans-serif" font-weight="bold" font-size="58" fill="#000">
<text transform="translate(281.5,1181.8) scale(0.983,1.1)" text-anchor="end">20%</text>
<text transform="translate(281.5,1049.8) scale(0.983,1.1)" text-anchor="end">30%</text>
<text transform="translate(281.5,917.8) scale(0.983,1.1)" text-anchor="end">40%</text>
<text transform="translate(281.5,785.7) scale(0.983,1.1)" text-anchor="end">50%</text>
<text transform="translate(281.5,653.7) scale(0.983,1.1)" text-anchor="end">60%</text>
<text transform="translate(281.5,521.7) scale(0.983,1.1)" text-anchor="end">70%</text>
<text transform="translate(281.5,389.7) scale(0.983,1.1)" text-anchor="end">80%</text>
<text transform="translate(281.5,257.6) scale(0.983,1.1)" text-anchor="end">90%</text>
<text transform="translate(281.5,125.6) scale(0.983,1.1)" text-anchor="end">100%</text>
<text transform="translate(446.7,1245.2) scale(0.983,1.04)" text-anchor="middle">100</text>
<text transform="translate(627.6,1245.2) scale(0.983,1.04)" text-anchor="middle">200</text>
<text transform="translate(808.5,1245.2) scale(0.983,1.04)" text-anchor="middle">300</text>
<text transform="translate(989.4,1245.2) scale(0.983,1.04)" text-anchor="middle">400</text>
<text transform="translate(1170.3,1245.2) scale(0.983,1.04)" text-anchor="middle">500</text>
<text transform="translate(1351.2,1245.2) scale(0.983,1.04)" text-anchor="middle">600</text>
<text transform="translate(1532.1,1245.2) scale(0.983,1.04)" text-anchor="middle">700</text>
<text transform="translate(1713.0,1245.2) scale(0.983,1.04)" text-anchor="middle">800</text>
</g>
<text font-family="Liberation Sans, sans-serif" font-weight="bold" font-size="75" x="724.5" y="1365" textLength="582" lengthAdjust="spacing">Temperature(<tspan font-family="Liberation Serif, serif" font-weight="normal">°</tspan>C)</text>
<text font-family="Liberation Sans, sans-serif" font-weight="bold" font-size="75" transform="translate(84.4,886.5) rotate(-90)" x="0" y="0" textLength="632" lengthAdjust="spacing">Residual Mass(%)</text>
<g font-family="Liberation Sans, sans-serif" font-size="58" fill="#000">
<rect x="397.4" y="273.4" width="138.1" height="8.4" fill="#000000"/>
<text transform="translate(546,297.5) scale(1,1.03)" textLength="431" lengthAdjust="spacing">PCBEK-C0B100</text>
<rect x="397.4" y="345.2" width="138.1" height="8.4" fill="#ff0000"/>
<text transform="translate(546,369.2) scale(1,1.03)" textLength="431" lengthAdjust="spacing">PCBEK-C25B75</text>
<rect x="397.4" y="416.9" width="138.1" height="8.4" fill="#0000ff"/>
<text transform="translate(546,441.0) scale(1,1.03)" textLength="431" lengthAdjust="spacing">PCBEK-C50B50</text>
<rect x="397.4" y="488.7" width="138.1" height="8.4" fill="#ff00ff"/>
<text transform="translate(546,512.8) scale(1,1.03)" textLength="431" lengthAdjust="spacing">PCBEK-C75B25</text>
<rect x="397.4" y="560.4" width="138.1" height="8.4" fill="#008000"/>
<text transform="translate(546,584.5) scale(1,1.03)" textLength="431" lengthAdjust="spacing">PCBEK-C100B0</text>
</g>
</svg></body></html>
